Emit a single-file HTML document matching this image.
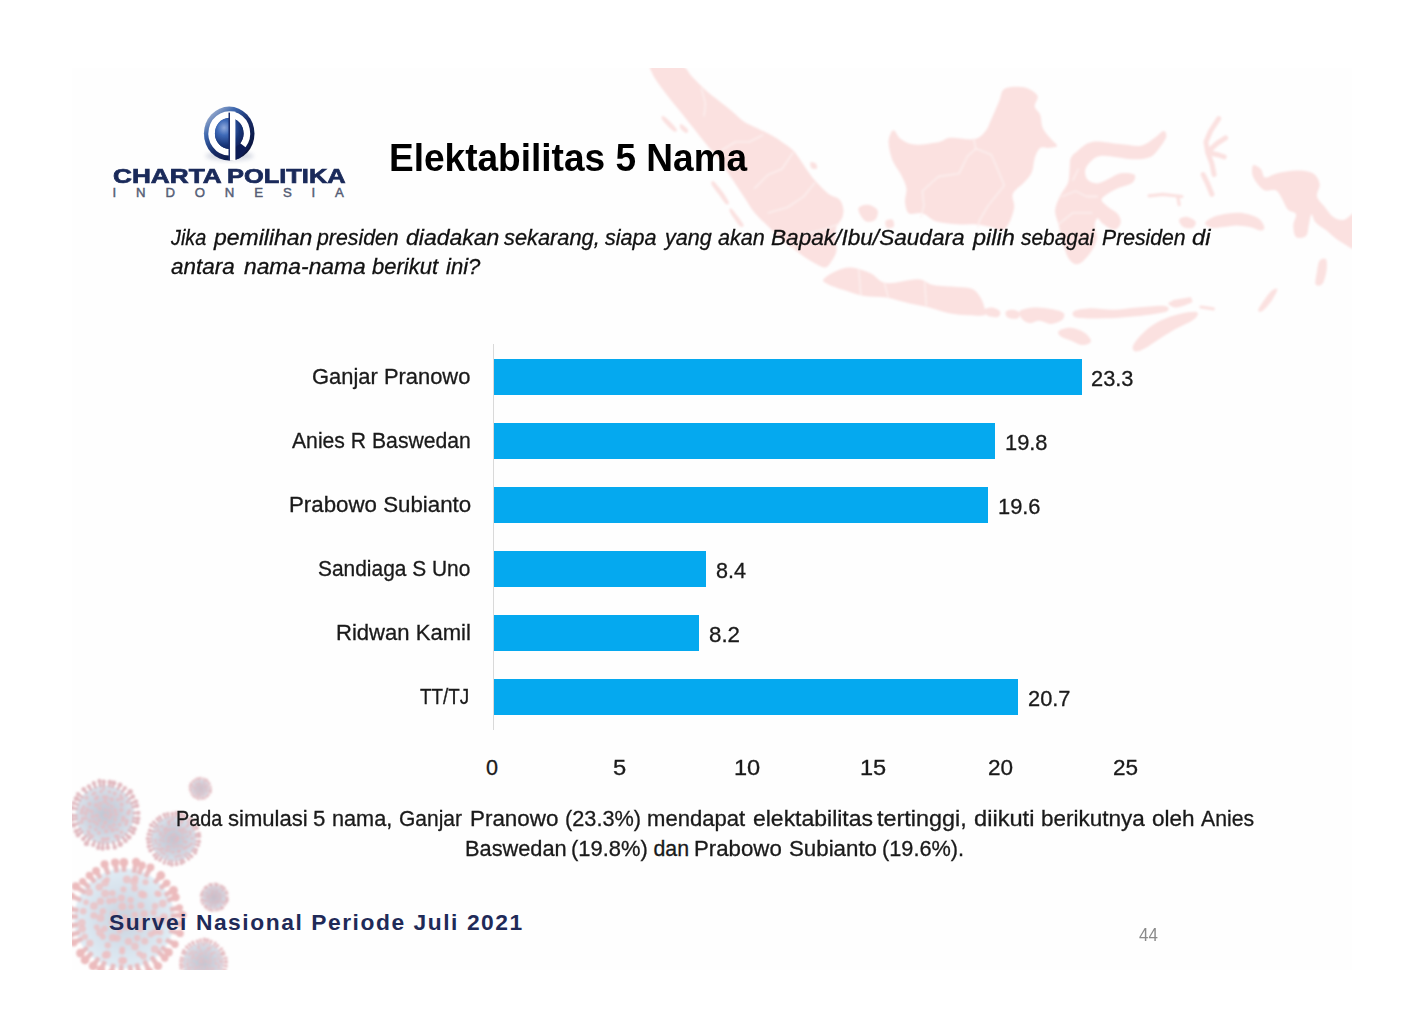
<!DOCTYPE html>
<html lang="id">
<head>
<meta charset="utf-8">
<title>Elektabilitas 5 Nama</title>
<style>
html,body{margin:0;padding:0;background:#fff;}
body{width:1428px;height:1026px;position:relative;overflow:hidden;font-family:"Liberation Sans",sans-serif;}
#slide{position:absolute;left:72px;top:68px;width:1280px;height:902px;background:#fefefe;overflow:hidden;}
.abs{position:absolute;left:0;top:0;}
.t{position:absolute;white-space:nowrap;line-height:1;transform-origin:0 0;margin:0;padding:0;}
.bar{position:absolute;left:493.6px;height:35.6px;background:#05a9ef;}
#axis{position:absolute;left:493px;top:344px;width:1px;height:386px;background:#d9d9d9;}
</style>
</head>
<body>
<div id="slide"></div>
<!-- decorative art (page coordinates) -->
<svg class="abs" width="1428" height="1026" viewBox="0 0 1428 1026">
<defs><clipPath id="slideClip"><rect x="72" y="68" width="1280" height="902"/></clipPath>
<filter id="mapBlur" x="-5%" y="-5%" width="110%" height="110%"><feGaussianBlur stdDeviation="0.9"/></filter></defs>
<g clip-path="url(#slideClip)"><g filter="url(#mapBlur)" fill="#fbe1e0"><path d="M652.3 65.5 C657.1 64.1 674.3 63.6 680.9 65.5 C687.5 67.3 687.8 72.3 691.9 76.4 C695.9 80.5 701.0 85.9 705.5 90.0 C710.1 94.1 714.6 97.3 719.1 100.9 C723.7 104.6 728.7 108.4 732.8 111.9 C736.9 115.3 739.6 118.7 743.7 121.4 C747.8 124.1 752.8 126.0 757.4 128.2 C761.9 130.5 766.9 132.8 771.0 135.1 C775.1 137.3 778.3 139.4 781.9 141.9 C785.6 144.4 789.7 146.9 792.8 150.1 C796.0 153.2 798.8 157.8 801.0 161.0 C803.3 164.2 804.2 166.0 806.5 169.2 C808.8 172.4 811.0 176.0 814.7 180.1 C818.3 184.2 824.2 190.5 828.3 193.7 C832.4 196.9 836.7 196.7 839.2 199.2 C841.7 201.7 842.9 205.6 843.3 208.7 C843.8 211.9 843.1 215.3 842.0 218.3 C840.8 221.3 837.6 223.3 836.5 226.5 C835.4 229.7 835.1 233.3 835.1 237.4 C835.1 241.5 837.2 247.0 836.5 251.0 C835.8 255.1 832.9 259.2 831.0 262.0 C829.2 264.7 827.9 267.0 825.6 267.4 C823.3 267.9 821.0 266.5 817.4 264.7 C813.8 262.9 807.8 259.2 803.8 256.5 C799.7 253.8 796.5 251.0 792.8 248.3 C789.2 245.6 786.0 243.8 781.9 240.1 C777.8 236.5 772.8 231.0 768.3 226.5 C763.7 221.9 758.7 217.8 754.6 212.8 C750.5 207.8 747.4 201.9 743.7 196.5 C740.1 191.0 736.4 185.5 732.8 180.1 C729.2 174.6 725.5 168.7 721.9 163.7 C718.2 158.7 714.6 154.6 711.0 150.1 C707.3 145.5 703.7 141.0 700.0 136.4 C696.4 131.9 692.8 127.3 689.1 122.8 C685.5 118.2 681.8 113.7 678.2 109.1 C674.6 104.6 670.5 99.6 667.3 95.5 C664.1 91.4 661.6 88.2 659.1 84.6 C656.6 80.9 653.4 76.8 652.3 73.6 C651.1 70.5 647.5 66.8 652.3 65.5 Z"/><path d="M894.1 130.4 C895.9 131.1 897.5 136.8 900.9 139.1 C904.4 141.5 908.2 144.2 914.6 144.6 C921.0 145.1 933.2 143.0 939.1 141.9 C945.1 140.7 944.2 138.2 950.1 137.8 C956.0 137.3 968.7 140.3 974.6 139.1 C980.5 138.0 982.8 134.1 985.5 131.0 C988.3 127.8 988.7 125.0 991.0 120.0 C993.3 115.0 996.9 106.2 999.2 100.9 C1001.5 95.7 1000.6 90.9 1004.7 88.7 C1008.7 86.4 1018.3 86.2 1023.8 87.3 C1029.2 88.4 1035.6 92.3 1037.4 95.5 C1039.2 98.7 1034.2 103.2 1034.7 106.4 C1035.1 109.6 1038.8 110.9 1040.1 114.6 C1041.5 118.2 1041.0 124.1 1042.9 128.2 C1044.7 132.3 1048.7 136.2 1051.0 139.1 C1053.4 142.1 1057.5 144.5 1057.1 146.0 C1056.6 147.4 1051.1 147.6 1048.3 147.9 C1045.5 148.2 1042.4 146.2 1040.1 147.9 C1037.9 149.6 1036.0 154.3 1034.7 158.3 C1033.3 162.3 1033.8 167.8 1031.9 171.9 C1030.1 176.0 1026.9 179.2 1023.8 182.8 C1020.6 186.5 1014.4 189.6 1012.8 193.7 C1011.2 197.8 1014.9 202.4 1014.2 207.4 C1013.5 212.4 1010.8 219.9 1008.7 223.8 C1006.7 227.6 1004.9 230.0 1001.9 230.6 C999.0 231.1 995.6 228.1 991.0 227.0 C986.5 226.0 980.5 224.8 974.6 224.3 C968.7 223.8 961.9 224.8 955.5 224.3 C949.2 223.8 941.9 223.4 936.4 221.6 C931.0 219.8 927.3 214.7 922.8 213.4 C918.2 212.0 912.1 215.3 909.1 213.4 C906.2 211.5 905.5 206.1 905.0 201.9 C904.6 197.7 907.1 192.8 906.4 188.3 C905.7 183.7 903.2 179.2 900.9 174.6 C898.7 170.1 894.8 166.0 892.8 161.0 C890.7 156.0 889.1 148.9 888.7 144.6 C888.2 140.3 889.1 137.4 890.0 135.1 C890.9 132.7 892.3 129.7 894.1 130.4 Z"/><path d="M1077.0 151.4 C1080.5 148.7 1084.9 143.1 1092.0 141.9 C1099.0 140.6 1111.1 143.4 1119.3 144.1 C1127.5 144.7 1135.2 146.7 1141.1 145.7 C1147.0 144.7 1151.0 140.2 1154.8 137.8 C1158.5 135.3 1161.6 131.1 1163.5 131.0 C1165.4 130.8 1167.0 134.0 1166.2 137.0 C1165.4 139.9 1161.6 145.3 1158.9 148.7 C1156.1 152.1 1154.2 155.4 1149.8 157.2 C1145.5 158.9 1138.5 159.3 1132.9 159.3 C1127.4 159.3 1122.0 157.7 1116.6 157.2 C1111.1 156.6 1104.5 155.3 1100.2 156.1 C1095.9 156.8 1093.1 159.1 1090.6 161.5 C1088.1 163.9 1085.6 167.4 1085.2 170.5 C1084.7 173.6 1085.8 177.9 1087.9 180.1 C1089.9 182.2 1094.0 183.5 1097.4 183.4 C1100.9 183.2 1104.5 180.7 1108.4 179.0 C1112.2 177.3 1116.3 174.0 1120.6 173.3 C1125.0 172.5 1132.3 173.0 1134.3 174.6 C1136.2 176.2 1135.1 180.5 1132.4 182.8 C1129.7 185.1 1122.1 186.4 1117.9 188.3 C1113.7 190.2 1109.7 192.4 1107.0 194.3 C1104.3 196.2 1101.5 197.8 1101.5 199.7 C1101.5 201.7 1104.3 203.6 1107.0 206.0 C1109.7 208.4 1115.6 211.3 1117.9 214.2 C1120.2 217.1 1121.3 220.6 1120.6 223.2 C1120.0 225.8 1116.8 229.7 1113.8 229.8 C1110.9 229.9 1105.6 225.7 1102.9 223.8 C1100.2 221.8 1098.8 217.8 1097.4 218.3 C1096.1 218.8 1094.8 223.1 1094.7 226.5 C1094.6 229.9 1097.6 234.4 1096.9 238.8 C1096.2 243.1 1093.7 248.2 1090.6 252.4 C1087.5 256.6 1082.0 263.1 1078.3 264.1 C1074.7 265.2 1071.4 262.5 1068.8 258.7 C1066.1 254.9 1064.2 247.1 1062.5 241.5 C1060.8 235.9 1059.9 230.4 1058.7 225.1 C1057.5 219.9 1054.8 215.1 1055.1 210.1 C1055.5 205.1 1058.5 199.6 1060.6 195.1 C1062.7 190.5 1066.5 187.1 1068.0 182.8 C1069.5 178.5 1069.2 173.3 1069.6 169.2 C1070.1 165.1 1069.5 161.2 1070.7 158.3 C1071.9 155.3 1073.4 154.2 1077.0 151.4 Z"/><path d="M823.5 279.2 C824.8 277.1 830.7 273.3 835.3 271.4 C839.9 269.4 845.1 267.1 851.0 267.5 C856.9 267.8 864.7 270.7 870.6 273.3 C876.5 275.9 878.4 282.2 886.3 283.1 C894.1 284.1 909.8 278.9 917.6 279.2 C925.5 279.5 926.8 283.8 933.3 285.1 C939.9 286.4 950.3 286.4 956.9 287.1 C963.4 287.7 968.5 287.1 972.5 289.0 C976.6 291.0 979.1 295.2 981.2 298.8 C983.3 302.4 984.6 307.8 985.1 310.6 C985.6 313.3 987.1 314.5 984.3 315.3 C981.6 316.1 974.5 315.6 968.6 315.3 C962.7 315.0 955.6 314.6 949.0 313.3 C942.5 312.0 935.9 309.1 929.4 307.5 C922.9 305.8 917.0 305.2 909.8 303.5 C902.6 301.9 894.1 299.0 886.3 297.6 C878.4 296.3 869.9 297.0 862.7 295.7 C855.6 294.4 849.0 291.8 843.1 289.8 C837.3 287.8 830.7 285.7 827.5 283.9 C824.2 282.2 822.2 281.3 823.5 279.2 Z"/><path d="M984.3 309.8 C985.0 308.4 989.5 307.2 992.2 307.5 C994.8 307.7 999.0 309.8 1000.0 311.4 C1001.0 312.9 1000.0 316.1 998.0 316.9 C996.1 317.6 990.5 317.3 988.2 316.1 C985.9 314.9 983.7 311.2 984.3 309.8 Z"/><path d="M1005.9 311.4 C1006.9 310.1 1011.4 309.5 1013.7 309.8 C1016.0 310.1 1019.0 311.5 1019.6 312.9 C1020.3 314.4 1019.6 317.6 1017.6 318.4 C1015.7 319.2 1009.8 318.8 1007.8 317.6 C1005.9 316.5 1004.9 312.7 1005.9 311.4 Z"/><path d="M1020.4 310.6 C1022.7 308.8 1030.2 307.7 1035.3 307.5 C1040.4 307.2 1046.3 308.1 1051.0 309.0 C1055.7 309.9 1061.7 311.1 1063.5 312.9 C1065.4 314.8 1064.1 318.2 1062.0 320.0 C1059.9 321.8 1054.8 323.8 1051.0 323.9 C1047.2 324.1 1042.8 320.9 1039.2 320.8 C1035.6 320.7 1032.4 323.5 1029.4 323.1 C1026.5 322.7 1023.1 320.5 1021.6 318.4 C1020.1 316.3 1018.1 312.4 1020.4 310.6 Z"/><path d="M1073.7 311.4 C1076.0 309.8 1083.5 308.5 1090.2 308.2 C1096.9 308.0 1105.9 309.9 1113.7 309.8 C1121.6 309.7 1128.8 308.1 1137.3 307.5 C1145.8 306.8 1159.8 305.2 1164.7 305.9 C1169.6 306.5 1169.9 309.8 1166.7 311.4 C1163.4 312.9 1152.6 314.2 1145.1 315.3 C1137.6 316.3 1129.4 317.1 1121.6 317.6 C1113.7 318.2 1105.6 318.4 1098.0 318.4 C1090.5 318.4 1080.5 318.8 1076.5 317.6 C1072.4 316.5 1071.4 312.9 1073.7 311.4 Z"/><path d="M1058.8 331.0 C1060.5 329.5 1066.3 327.6 1070.6 327.8 C1074.8 328.1 1080.9 330.3 1084.3 332.5 C1087.7 334.8 1091.3 339.1 1091.0 341.2 C1090.7 343.3 1085.8 345.2 1082.4 345.1 C1079.0 345.0 1074.2 341.8 1070.6 340.4 C1067.0 339.0 1062.7 338.0 1060.8 336.5 C1058.8 334.9 1057.2 332.4 1058.8 331.0 Z"/><path d="M1133.3 345.1 C1135.0 341.7 1140.5 335.1 1145.1 331.0 C1149.7 326.9 1154.9 323.3 1160.8 320.4 C1166.7 317.5 1174.4 315.1 1180.4 313.7 C1186.4 312.4 1194.6 311.2 1196.9 312.2 C1199.2 313.1 1197.5 316.5 1194.1 319.2 C1190.7 322.0 1182.0 325.5 1176.5 328.6 C1170.9 331.8 1166.0 334.8 1160.8 338.0 C1155.6 341.3 1149.3 346.0 1145.1 348.2 C1140.8 350.5 1137.3 351.9 1135.3 351.4 C1133.3 350.8 1131.7 348.5 1133.3 345.1 Z"/><path d="M1168.6 302.7 C1170.3 301.3 1182.4 299.0 1186.3 298.8 C1190.2 298.7 1193.8 300.5 1192.2 302.0 C1190.5 303.4 1180.4 307.3 1176.5 307.5 C1172.5 307.6 1167.0 304.2 1168.6 302.7 Z"/><path d="M1253.4 165.1 C1254.9 164.2 1259.1 167.1 1261.0 169.2 C1263.0 171.2 1262.4 176.7 1265.1 177.4 C1267.9 178.0 1272.2 174.4 1277.4 173.3 C1282.7 172.1 1290.6 170.5 1296.5 170.5 C1302.4 170.5 1309.0 171.0 1312.9 173.3 C1316.8 175.5 1319.0 180.3 1319.7 184.2 C1320.4 188.0 1316.1 192.6 1317.0 196.5 C1317.9 200.3 1322.5 204.0 1325.2 207.4 C1327.9 210.8 1330.2 214.9 1333.4 216.9 C1336.6 219.0 1340.0 220.6 1344.3 219.7 C1348.6 218.8 1356.8 206.7 1359.3 211.5 C1361.8 216.2 1362.5 243.3 1359.3 248.3 C1356.1 253.3 1345.7 244.5 1340.2 241.5 C1334.7 238.5 1330.6 233.8 1326.6 230.6 C1322.5 227.4 1318.1 225.1 1315.6 222.4 C1313.1 219.7 1312.7 213.7 1311.5 214.2 C1310.4 214.7 1309.7 221.5 1308.8 225.1 C1307.9 228.8 1308.2 234.1 1306.1 236.0 C1303.9 238.0 1298.1 238.7 1296.0 236.9 C1293.8 235.0 1293.3 228.9 1293.3 225.1 C1293.3 221.3 1296.9 216.8 1296.0 214.2 C1295.1 211.6 1290.2 212.3 1287.8 209.6 C1285.4 206.8 1283.5 201.0 1281.5 197.8 C1279.6 194.6 1278.8 191.7 1276.1 190.5 C1273.3 189.2 1268.2 191.5 1265.1 190.5 C1262.1 189.4 1259.9 186.8 1257.8 184.2 C1255.6 181.5 1253.0 177.8 1252.3 174.6 C1251.6 171.4 1252.0 166.0 1253.4 165.1 Z"/><path d="M1205.1 223.2 C1205.3 221.4 1209.4 218.6 1213.3 216.9 C1217.2 215.3 1223.1 214.0 1228.3 213.4 C1233.5 212.8 1239.7 212.6 1244.7 213.4 C1249.7 214.2 1255.0 216.0 1258.3 218.3 C1261.6 220.6 1263.9 225.0 1264.3 227.0 C1264.8 229.1 1263.4 230.6 1261.0 230.6 C1258.7 230.6 1254.2 227.9 1250.1 227.0 C1246.0 226.2 1241.0 225.4 1236.5 225.4 C1231.9 225.4 1226.9 226.6 1222.8 227.0 C1218.7 227.4 1214.9 228.5 1211.9 227.8 C1209.0 227.2 1204.9 225.0 1205.1 223.2 Z"/><path d="M1179.2 219.7 C1179.9 218.0 1184.6 216.6 1187.4 216.9 C1190.1 217.3 1194.6 219.8 1195.5 221.6 C1196.5 223.4 1194.9 226.9 1192.8 227.8 C1190.8 228.8 1185.5 228.4 1183.3 227.0 C1181.0 225.7 1178.5 221.3 1179.2 219.7 Z"/><path d="M1319.7 260.6 C1321.2 258.6 1324.9 257.6 1326.0 259.2 C1327.1 260.8 1327.1 266.1 1326.6 270.2 C1326.0 274.2 1324.3 281.4 1322.5 283.8 C1320.6 286.2 1316.5 286.4 1315.6 284.3 C1314.7 282.3 1316.3 275.5 1317.0 271.5 C1317.7 267.6 1318.2 262.6 1319.7 260.6 Z"/><path d="M1272.0 290.6 C1274.0 289.0 1277.4 287.7 1277.4 289.3 C1277.4 290.8 1274.5 296.5 1272.0 300.2 C1269.5 303.8 1264.7 309.5 1262.4 311.1 C1260.1 312.7 1257.9 311.8 1258.3 309.7 C1258.8 307.7 1262.9 302.0 1265.1 298.8 C1267.4 295.6 1269.9 292.2 1272.0 290.6 Z"/><path d="M858.3 208.7 C858.8 206.0 864.7 204.4 867.9 204.7 C871.1 204.9 876.2 207.6 877.4 210.1 C878.7 212.6 877.3 217.8 875.3 219.7 C873.2 221.5 868.0 222.8 865.2 221.0 C862.3 219.2 857.9 211.5 858.3 208.7 Z"/><path d="M885.6 221.0 C886.5 219.7 891.1 218.8 892.5 219.7 C893.8 220.6 894.7 225.1 893.8 226.5 C892.9 227.8 888.4 228.8 887.0 227.8 C885.6 226.9 884.7 222.4 885.6 221.0 Z"/><path d="M663.2 115.9 C664.6 116.4 667.7 119.1 670.0 121.4 C672.3 123.7 676.2 127.9 676.8 129.6 C677.5 131.3 675.7 132.2 674.1 131.5 C672.5 130.8 669.3 127.6 667.3 125.5 C665.2 123.4 662.5 120.3 661.8 118.7 C661.2 117.1 661.8 115.5 663.2 115.9 Z"/><path d="M680.9 124.1 C682.2 124.4 686.9 128.1 687.8 129.6 C688.7 131.1 687.6 133.4 686.4 133.1 C685.2 132.9 681.3 129.7 680.4 128.2 C679.5 126.7 679.7 123.9 680.9 124.1 Z"/><path d="M713.7 181.5 C715.4 182.6 719.4 187.6 721.9 191.0 C724.4 194.4 728.0 199.7 728.7 201.9 C729.4 204.1 727.7 205.4 726.0 204.1 C724.3 202.8 721.0 197.6 718.6 194.3 C716.2 191.0 712.3 186.3 711.5 184.2 C710.7 182.0 712.0 180.3 713.7 181.5 Z"/><path d="M731.4 208.7 C732.9 209.8 736.2 214.2 738.3 216.9 C740.3 219.7 743.3 223.5 743.7 225.1 C744.1 226.7 742.0 227.5 740.4 226.5 C738.8 225.4 736.0 221.5 734.2 218.8 C732.3 216.2 730.0 212.3 729.5 210.7 C729.1 209.0 730.0 207.7 731.4 208.7 Z"/><path d="M810.6 162.3 C811.4 161.6 815.0 162.7 816.0 163.7 C817.1 164.8 817.6 167.9 816.9 168.6 C816.1 169.4 812.4 169.1 811.4 168.1 C810.4 167.0 809.8 163.1 810.6 162.3 Z"/><path d="M1218.7 118.7 L1210.6 131.0 L1205.9 141.9 L1207.8 152.8 L1211.9 163.7 L1214.1 174.6" fill="none" stroke="#fbe1e0" stroke-width="5" stroke-linecap="round" stroke-linejoin="round"/><path d="M1225.6 137.8 L1217.4 143.2 L1209.7 150.1" fill="none" stroke="#fbe1e0" stroke-width="5" stroke-linecap="round" stroke-linejoin="round"/><path d="M1209.2 152.8 L1218.7 155.0 L1224.2 156.9" fill="none" stroke="#fbe1e0" stroke-width="5" stroke-linecap="round" stroke-linejoin="round"/><path d="M1203.2 174.6 L1207.8 184.2 L1211.9 194.3" fill="none" stroke="#fbe1e0" stroke-width="5" stroke-linecap="round" stroke-linejoin="round"/><path d="M1149.1 195.9 L1162.8 194.3 L1181.9 196.5" fill="none" stroke="#fbe1e0" stroke-width="3.2" stroke-linecap="round" stroke-linejoin="round"/><path d="M1177.8 196.5 L1179.2 204.7" fill="none" stroke="#fbe1e0" stroke-width="3.2" stroke-linecap="round" stroke-linejoin="round"/><path d="M1173.7 301.5 L1190.1 298.8" fill="none" stroke="#fbe1e0" stroke-width="3.2" stroke-linecap="round" stroke-linejoin="round"/><path d="M1201.0 307.0 L1213.3 308.9" fill="none" stroke="#fbe1e0" stroke-width="3.2" stroke-linecap="round" stroke-linejoin="round"/><path d="M975.8 148.7 L967.7 156.0 L958.9 173.6 L938.5 176.5 L922.4 191.1 L923.9 205.7 L920.9 217.4" fill="none" stroke="#fdf1f0" stroke-width="1.3" stroke-linecap="round" stroke-linejoin="round"/><path d="M975.8 148.7 L991.1 154.6 L997.0 167.7 L1004.3 185.3 L988.2 205.7 L979.4 220.4 L978.0 227.7" fill="none" stroke="#fdf1f0" stroke-width="1.3" stroke-linecap="round" stroke-linejoin="round"/><path d="M973.6 138.5 L975.8 148.7" fill="none" stroke="#fdf1f0" stroke-width="1.3" stroke-linecap="round" stroke-linejoin="round"/><path d="M701.4 88.7 L705.5 103.7 L704.1 115.9" fill="none" stroke="#fdf1f0" stroke-width="1.3" stroke-linecap="round" stroke-linejoin="round"/><path d="M721.9 150.1 L735.5 141.9 L749.2 141.9 L762.8 135.1" fill="none" stroke="#fdf1f0" stroke-width="1.3" stroke-linecap="round" stroke-linejoin="round"/><path d="M754.6 188.3 L768.3 174.6 L781.9 169.2 L792.8 152.8" fill="none" stroke="#fdf1f0" stroke-width="1.3" stroke-linecap="round" stroke-linejoin="round"/><path d="M768.3 212.8 L787.4 207.4 L803.8 196.5 L814.7 182.8" fill="none" stroke="#fdf1f0" stroke-width="1.3" stroke-linecap="round" stroke-linejoin="round"/><path d="M792.8 248.3 L803.8 234.7 L825.6 229.2 L839.2 223.8" fill="none" stroke="#fdf1f0" stroke-width="1.3" stroke-linecap="round" stroke-linejoin="round"/><path d="M1062.0 196.5 L1075.6 191.0 L1086.5 196.5 L1097.4 196.5" fill="none" stroke="#fdf1f0" stroke-width="1.3" stroke-linecap="round" stroke-linejoin="round"/><path d="M1059.2 223.8 L1072.9 212.8 L1092.0 212.8" fill="none" stroke="#fdf1f0" stroke-width="1.3" stroke-linecap="round" stroke-linejoin="round"/><path d="M1078.3 169.2 L1072.9 180.1" fill="none" stroke="#fdf1f0" stroke-width="1.3" stroke-linecap="round" stroke-linejoin="round"/><path d="M858.8 269.4 L860.8 294.9" fill="none" stroke="#fdf1f0" stroke-width="1.3" stroke-linecap="round" stroke-linejoin="round"/><path d="M884.3 282.4 L888.2 297.3" fill="none" stroke="#fdf1f0" stroke-width="1.3" stroke-linecap="round" stroke-linejoin="round"/><path d="M924.7 282.4 L926.3 305.9" fill="none" stroke="#fdf1f0" stroke-width="1.3" stroke-linecap="round" stroke-linejoin="round"/></g></g>
</svg>
<svg class="abs" width="1428" height="1026" viewBox="0 0 1428 1026">
<defs>
<radialGradient id="vBody" cx="0.5" cy="0.5" r="0.5"><stop offset="0" stop-color="#aebccd"/><stop offset="0.5" stop-color="#bfd0e0"/><stop offset="1" stop-color="#d2e4f0"/></radialGradient>
<radialGradient id="vBody2" cx="0.5" cy="0.5" r="0.5"><stop offset="0" stop-color="#98a3b8"/><stop offset="0.55" stop-color="#abb8cb"/><stop offset="1" stop-color="#c2d1e0"/></radialGradient>
<filter id="vBlur" x="-10%" y="-10%" width="120%" height="120%"><feGaussianBlur stdDeviation="1.1"/></filter>
</defs>
<g clip-path="url(#slideClip)"><g filter="url(#vBlur)"><g opacity="0.66"><circle cx="124.3" cy="918.6" r="50.0" fill="url(#vBody)"/><path d="M79.8 932.2 L68.7 935.5" stroke="#dd9da2" stroke-width="4.8"/><circle cx="68.7" cy="935.5" r="3.9" fill="#e2989b"/><path d="M78.2 924.6 L67.7 926.0" stroke="#dd9da2" stroke-width="4.8"/><circle cx="67.7" cy="926.0" r="3.7" fill="#e2989b"/><path d="M77.9 916.7 L67.1 916.3" stroke="#dd9da2" stroke-width="4.8"/><circle cx="67.1" cy="916.3" r="4.2" fill="#e2989b"/><path d="M78.5 910.4 L68.9 908.7" stroke="#dd9da2" stroke-width="4.8"/><circle cx="68.9" cy="908.7" r="3.6" fill="#e2989b"/><path d="M81.5 900.4 L71.5 896.1" stroke="#dd9da2" stroke-width="4.8"/><circle cx="71.5" cy="896.1" r="3.5" fill="#e2989b"/><path d="M85.6 892.9 L75.8 886.4" stroke="#dd9da2" stroke-width="4.8"/><circle cx="75.8" cy="886.4" r="4.1" fill="#e2989b"/><path d="M89.6 887.7 L82.6 881.5" stroke="#dd9da2" stroke-width="4.8"/><circle cx="82.6" cy="881.5" r="3.5" fill="#e2989b"/><path d="M95.1 882.5 L89.4 875.5" stroke="#dd9da2" stroke-width="4.8"/><circle cx="89.4" cy="875.5" r="3.7" fill="#e2989b"/><path d="M100.7 878.6 L96.1 870.9" stroke="#dd9da2" stroke-width="4.8"/><circle cx="96.1" cy="870.9" r="3.9" fill="#e2989b"/><path d="M108.5 874.9 L104.6 864.2" stroke="#dd9da2" stroke-width="4.8"/><circle cx="104.6" cy="864.2" r="4.0" fill="#e2989b"/><path d="M116.8 872.7 L115.1 862.5" stroke="#dd9da2" stroke-width="4.8"/><circle cx="115.1" cy="862.5" r="4.1" fill="#e2989b"/><path d="M124.0 872.1 L123.9 862.4" stroke="#dd9da2" stroke-width="4.8"/><circle cx="123.9" cy="862.4" r="4.4" fill="#e2989b"/><path d="M133.8 873.1 L136.1 862.0" stroke="#dd9da2" stroke-width="4.8"/><circle cx="136.1" cy="862.0" r="4.2" fill="#e2989b"/><path d="M139.0 874.5 L142.0 865.4" stroke="#dd9da2" stroke-width="4.8"/><circle cx="142.0" cy="865.4" r="3.8" fill="#e2989b"/><path d="M145.4 877.2 L150.5 867.3" stroke="#dd9da2" stroke-width="4.8"/><circle cx="150.5" cy="867.3" r="3.9" fill="#e2989b"/><path d="M154.4 883.2 L160.8 875.5" stroke="#dd9da2" stroke-width="4.8"/><circle cx="160.8" cy="875.5" r="4.4" fill="#e2989b"/><path d="M159.9 888.7 L166.7 883.1" stroke="#dd9da2" stroke-width="4.8"/><circle cx="166.7" cy="883.1" r="3.7" fill="#e2989b"/><path d="M164.6 895.4 L173.5 890.3" stroke="#dd9da2" stroke-width="4.8"/><circle cx="173.5" cy="890.3" r="4.4" fill="#e2989b"/><path d="M167.2 900.8 L175.6 897.3" stroke="#dd9da2" stroke-width="4.8"/><circle cx="175.6" cy="897.3" r="4.1" fill="#e2989b"/><path d="M169.9 909.7 L179.4 907.8" stroke="#dd9da2" stroke-width="4.8"/><circle cx="179.4" cy="907.8" r="3.6" fill="#e2989b"/><path d="M170.7 915.8 L182.4 915.1" stroke="#dd9da2" stroke-width="4.8"/><circle cx="182.4" cy="915.1" r="4.2" fill="#e2989b"/><path d="M170.6 922.9 L180.1 923.8" stroke="#dd9da2" stroke-width="4.8"/><circle cx="180.1" cy="923.8" r="3.6" fill="#e2989b"/><path d="M169.2 930.5 L180.1 933.4" stroke="#dd9da2" stroke-width="4.8"/><circle cx="180.1" cy="933.4" r="3.7" fill="#e2989b"/><path d="M165.8 939.6 L174.9 944.2" stroke="#dd9da2" stroke-width="4.8"/><circle cx="174.9" cy="944.2" r="3.7" fill="#e2989b"/><path d="M161.2 946.8 L168.6 952.4" stroke="#dd9da2" stroke-width="4.8"/><circle cx="168.6" cy="952.4" r="4.1" fill="#e2989b"/><path d="M157.6 951.0 L164.8 958.1" stroke="#dd9da2" stroke-width="4.8"/><circle cx="164.8" cy="958.1" r="3.7" fill="#e2989b"/><path d="M151.2 956.5 L158.0 966.1" stroke="#dd9da2" stroke-width="4.8"/><circle cx="158.0" cy="966.1" r="4.2" fill="#e2989b"/><path d="M144.3 960.6 L149.2 971.0" stroke="#dd9da2" stroke-width="4.8"/><circle cx="149.2" cy="971.0" r="3.7" fill="#e2989b"/><path d="M136.5 963.4 L139.6 974.4" stroke="#dd9da2" stroke-width="4.8"/><circle cx="139.6" cy="974.4" r="4.1" fill="#e2989b"/><path d="M129.9 964.7 L131.3 976.5" stroke="#dd9da2" stroke-width="4.8"/><circle cx="131.3" cy="976.5" r="3.7" fill="#e2989b"/><path d="M121.4 965.0 L120.7 976.1" stroke="#dd9da2" stroke-width="4.8"/><circle cx="120.7" cy="976.1" r="3.8" fill="#e2989b"/><path d="M113.5 963.8 L111.4 972.6" stroke="#dd9da2" stroke-width="4.8"/><circle cx="111.4" cy="972.6" r="3.6" fill="#e2989b"/><path d="M105.0 960.9 L101.0 969.6" stroke="#dd9da2" stroke-width="4.8"/><circle cx="101.0" cy="969.6" r="4.1" fill="#e2989b"/><path d="M98.8 957.5 L93.2 966.0" stroke="#dd9da2" stroke-width="4.8"/><circle cx="93.2" cy="966.0" r="4.4" fill="#e2989b"/><path d="M92.3 952.3 L85.0 960.0" stroke="#dd9da2" stroke-width="4.8"/><circle cx="85.0" cy="960.0" r="4.3" fill="#e2989b"/><path d="M87.7 947.3 L80.4 953.1" stroke="#dd9da2" stroke-width="4.8"/><circle cx="80.4" cy="953.1" r="4.3" fill="#e2989b"/><path d="M82.3 938.6 L73.7 942.7" stroke="#dd9da2" stroke-width="4.8"/><circle cx="73.7" cy="942.7" r="3.7" fill="#e2989b"/><circle cx="126.8" cy="879.5" r="4.0" fill="#e3a0a4" opacity="0.8"/><circle cx="135.4" cy="878.5" r="3.4" fill="#e3a0a4" opacity="0.8"/><circle cx="134.2" cy="881.7" r="4.0" fill="#e3a0a4" opacity="0.8"/><circle cx="145.5" cy="882.1" r="3.2" fill="#e3a0a4" opacity="0.8"/><circle cx="157.5" cy="893.6" r="3.3" fill="#e3a0a4" opacity="0.8"/><circle cx="158.8" cy="894.2" r="3.0" fill="#e3a0a4" opacity="0.8"/><circle cx="162.8" cy="903.5" r="3.9" fill="#e3a0a4" opacity="0.8"/><circle cx="164.0" cy="917.2" r="4.0" fill="#e3a0a4" opacity="0.8"/><circle cx="162.3" cy="921.1" r="3.2" fill="#e3a0a4" opacity="0.8"/><circle cx="160.2" cy="932.2" r="3.1" fill="#e3a0a4" opacity="0.8"/><circle cx="159.3" cy="940.8" r="3.1" fill="#e3a0a4" opacity="0.8"/><circle cx="154.9" cy="949.3" r="4.0" fill="#e3a0a4" opacity="0.8"/><circle cx="143.4" cy="956.1" r="3.6" fill="#e3a0a4" opacity="0.8"/><circle cx="139.2" cy="953.8" r="3.0" fill="#e3a0a4" opacity="0.8"/><circle cx="122.0" cy="960.7" r="4.0" fill="#e3a0a4" opacity="0.8"/><circle cx="123.8" cy="960.4" r="3.5" fill="#e3a0a4" opacity="0.8"/><circle cx="107.0" cy="954.5" r="4.1" fill="#e3a0a4" opacity="0.8"/><circle cx="105.4" cy="955.3" r="3.8" fill="#e3a0a4" opacity="0.8"/><circle cx="89.8" cy="943.3" r="3.7" fill="#e3a0a4" opacity="0.8"/><circle cx="84.8" cy="936.7" r="3.3" fill="#e3a0a4" opacity="0.8"/><circle cx="82.2" cy="928.8" r="3.9" fill="#e3a0a4" opacity="0.8"/><circle cx="81.8" cy="922.6" r="3.9" fill="#e3a0a4" opacity="0.8"/><circle cx="83.2" cy="911.2" r="3.4" fill="#e3a0a4" opacity="0.8"/><circle cx="86.0" cy="902.2" r="3.0" fill="#e3a0a4" opacity="0.8"/><circle cx="89.2" cy="892.2" r="3.9" fill="#e3a0a4" opacity="0.8"/><circle cx="99.2" cy="887.1" r="3.8" fill="#e3a0a4" opacity="0.8"/><circle cx="105.1" cy="882.8" r="3.9" fill="#e3a0a4" opacity="0.8"/><circle cx="107.1" cy="879.8" r="3.0" fill="#e3a0a4" opacity="0.8"/><circle cx="100.5" cy="901.3" r="3.7" fill="#e3a0a4" opacity="0.8"/><circle cx="105.1" cy="893.4" r="4.0" fill="#e3a0a4" opacity="0.8"/><circle cx="112.4" cy="893.2" r="3.3" fill="#e3a0a4" opacity="0.8"/><circle cx="123.5" cy="889.4" r="3.1" fill="#e3a0a4" opacity="0.8"/><circle cx="134.6" cy="888.4" r="3.4" fill="#e3a0a4" opacity="0.8"/><circle cx="141.4" cy="894.0" r="3.7" fill="#e3a0a4" opacity="0.8"/><circle cx="143.7" cy="895.0" r="3.8" fill="#e3a0a4" opacity="0.8"/><circle cx="155.1" cy="906.2" r="3.4" fill="#e3a0a4" opacity="0.8"/><circle cx="153.6" cy="912.7" r="3.1" fill="#e3a0a4" opacity="0.8"/><circle cx="157.2" cy="920.7" r="3.9" fill="#e3a0a4" opacity="0.8"/><circle cx="155.1" cy="932.1" r="3.3" fill="#e3a0a4" opacity="0.8"/><circle cx="150.7" cy="934.3" r="3.3" fill="#e3a0a4" opacity="0.8"/><circle cx="144.8" cy="941.2" r="3.6" fill="#e3a0a4" opacity="0.8"/><circle cx="135.0" cy="946.5" r="3.9" fill="#e3a0a4" opacity="0.8"/><circle cx="122.3" cy="949.2" r="3.0" fill="#e3a0a4" opacity="0.8"/><circle cx="122.1" cy="951.7" r="3.0" fill="#e3a0a4" opacity="0.8"/><circle cx="107.8" cy="945.3" r="3.3" fill="#e3a0a4" opacity="0.8"/><circle cx="102.9" cy="936.8" r="3.1" fill="#e3a0a4" opacity="0.8"/><circle cx="99.9" cy="932.6" r="3.9" fill="#e3a0a4" opacity="0.8"/><circle cx="96.7" cy="927.2" r="3.0" fill="#e3a0a4" opacity="0.8"/><circle cx="93.8" cy="915.5" r="3.6" fill="#e3a0a4" opacity="0.8"/><circle cx="94.0" cy="906.0" r="4.0" fill="#e3a0a4" opacity="0.8"/><circle cx="114.2" cy="900.3" r="3.1" fill="#e3a0a4" opacity="0.8"/><circle cx="121.4" cy="898.0" r="3.7" fill="#e3a0a4" opacity="0.8"/><circle cx="130.6" cy="900.0" r="3.3" fill="#e3a0a4" opacity="0.8"/><circle cx="140.9" cy="905.5" r="3.6" fill="#e3a0a4" opacity="0.8"/><circle cx="144.1" cy="913.9" r="3.8" fill="#e3a0a4" opacity="0.8"/><circle cx="142.3" cy="922.9" r="4.0" fill="#e3a0a4" opacity="0.8"/><circle cx="139.9" cy="929.1" r="3.5" fill="#e3a0a4" opacity="0.8"/><circle cx="137.2" cy="938.1" r="3.4" fill="#e3a0a4" opacity="0.8"/><circle cx="128.5" cy="941.5" r="3.8" fill="#e3a0a4" opacity="0.8"/><circle cx="117.2" cy="938.1" r="3.7" fill="#e3a0a4" opacity="0.8"/><circle cx="112.7" cy="937.7" r="3.9" fill="#e3a0a4" opacity="0.8"/><circle cx="104.5" cy="928.8" r="3.2" fill="#e3a0a4" opacity="0.8"/><circle cx="100.5" cy="918.1" r="4.0" fill="#e3a0a4" opacity="0.8"/><circle cx="102.8" cy="911.2" r="3.3" fill="#e3a0a4" opacity="0.8"/><circle cx="109.2" cy="901.1" r="3.3" fill="#e3a0a4" opacity="0.8"/><circle cx="134.2" cy="924.0" r="3.8" fill="#e3a0a4" opacity="0.8"/><circle cx="126.5" cy="926.5" r="3.8" fill="#e3a0a4" opacity="0.8"/><circle cx="119.5" cy="930.4" r="3.1" fill="#e3a0a4" opacity="0.8"/><circle cx="112.2" cy="922.5" r="3.1" fill="#e3a0a4" opacity="0.8"/><circle cx="114.1" cy="914.1" r="3.8" fill="#e3a0a4" opacity="0.8"/><circle cx="122.3" cy="906.6" r="4.0" fill="#e3a0a4" opacity="0.8"/><circle cx="131.1" cy="906.7" r="3.0" fill="#e3a0a4" opacity="0.8"/><circle cx="134.8" cy="914.8" r="3.3" fill="#e3a0a4" opacity="0.8"/><circle cx="124.3" cy="918.5" r="3.9" fill="#e3a0a4" opacity="0.8"/></g><g opacity="0.60"><circle cx="105.0" cy="814.6" r="29.4" fill="url(#vBody2)"/><path d="M78.0 818.7 L71.7 819.6" stroke="#c98a96" stroke-width="2.8"/><circle cx="71.7" cy="819.6" r="2.1" fill="#cf8c96"/><path d="M77.7 815.4 L71.8 815.6" stroke="#c98a96" stroke-width="2.8"/><circle cx="71.8" cy="815.6" r="2.2" fill="#cf8c96"/><path d="M78.2 809.1 L71.9 807.8" stroke="#c98a96" stroke-width="2.8"/><circle cx="71.9" cy="807.8" r="2.4" fill="#cf8c96"/><path d="M79.3 805.2 L73.4 803.0" stroke="#c98a96" stroke-width="2.8"/><circle cx="73.4" cy="803.0" r="2.1" fill="#cf8c96"/><path d="M81.2 801.2 L76.4 798.5" stroke="#c98a96" stroke-width="2.8"/><circle cx="76.4" cy="798.5" r="2.6" fill="#cf8c96"/><path d="M83.3 798.0 L78.0 794.0" stroke="#c98a96" stroke-width="2.8"/><circle cx="78.0" cy="794.0" r="2.1" fill="#cf8c96"/><path d="M87.4 793.7 L83.7 789.2" stroke="#c98a96" stroke-width="2.8"/><circle cx="83.7" cy="789.2" r="2.3" fill="#cf8c96"/><path d="M91.5 790.8 L88.9 786.3" stroke="#c98a96" stroke-width="2.8"/><circle cx="88.9" cy="786.3" r="2.1" fill="#cf8c96"/><path d="M95.9 788.8 L93.8 783.1" stroke="#c98a96" stroke-width="2.8"/><circle cx="93.8" cy="783.1" r="2.1" fill="#cf8c96"/><path d="M100.5 787.6 L99.4 780.9" stroke="#c98a96" stroke-width="2.8"/><circle cx="99.4" cy="780.9" r="2.1" fill="#cf8c96"/><path d="M103.9 787.3 L103.7 781.8" stroke="#c98a96" stroke-width="2.8"/><circle cx="103.7" cy="781.8" r="2.2" fill="#cf8c96"/><path d="M109.0 787.5 L109.8 782.1" stroke="#c98a96" stroke-width="2.8"/><circle cx="109.8" cy="782.1" r="2.4" fill="#cf8c96"/><path d="M112.3 788.2 L113.8 782.9" stroke="#c98a96" stroke-width="2.8"/><circle cx="113.8" cy="782.9" r="2.5" fill="#cf8c96"/><path d="M117.3 790.2 L120.0 784.9" stroke="#c98a96" stroke-width="2.8"/><circle cx="120.0" cy="784.9" r="2.4" fill="#cf8c96"/><path d="M121.4 792.7 L124.9 788.0" stroke="#c98a96" stroke-width="2.8"/><circle cx="124.9" cy="788.0" r="2.1" fill="#cf8c96"/><path d="M125.2 796.2 L130.3 791.6" stroke="#c98a96" stroke-width="2.8"/><circle cx="130.3" cy="791.6" r="2.6" fill="#cf8c96"/><path d="M128.0 799.8 L132.9 796.6" stroke="#c98a96" stroke-width="2.8"/><circle cx="132.9" cy="796.6" r="2.3" fill="#cf8c96"/><path d="M130.2 803.9 L136.1 801.4" stroke="#c98a96" stroke-width="2.8"/><circle cx="136.1" cy="801.4" r="2.1" fill="#cf8c96"/><path d="M131.4 807.4 L137.0 805.8" stroke="#c98a96" stroke-width="2.8"/><circle cx="137.0" cy="805.8" r="2.3" fill="#cf8c96"/><path d="M132.3 813.2 L138.4 812.9" stroke="#c98a96" stroke-width="2.8"/><circle cx="138.4" cy="812.9" r="2.1" fill="#cf8c96"/><path d="M132.1 817.9 L138.1 818.6" stroke="#c98a96" stroke-width="2.8"/><circle cx="138.1" cy="818.6" r="2.3" fill="#cf8c96"/><path d="M131.6 821.1 L137.3 822.5" stroke="#c98a96" stroke-width="2.8"/><circle cx="137.3" cy="822.5" r="2.3" fill="#cf8c96"/><path d="M129.6 826.6 L134.4 829.0" stroke="#c98a96" stroke-width="2.8"/><circle cx="134.4" cy="829.0" r="2.4" fill="#cf8c96"/><path d="M127.9 829.5 L133.3 833.0" stroke="#c98a96" stroke-width="2.8"/><circle cx="133.3" cy="833.0" r="2.1" fill="#cf8c96"/><path d="M124.9 833.3 L129.1 837.3" stroke="#c98a96" stroke-width="2.8"/><circle cx="129.1" cy="837.3" r="2.4" fill="#cf8c96"/><path d="M121.9 836.1 L125.6 840.9" stroke="#c98a96" stroke-width="2.8"/><circle cx="125.6" cy="840.9" r="2.2" fill="#cf8c96"/><path d="M117.5 838.9 L120.3 844.3" stroke="#c98a96" stroke-width="2.8"/><circle cx="120.3" cy="844.3" r="2.6" fill="#cf8c96"/><path d="M112.8 840.8 L114.8 847.4" stroke="#c98a96" stroke-width="2.8"/><circle cx="114.8" cy="847.4" r="2.2" fill="#cf8c96"/><path d="M107.3 841.8 L107.8 847.7" stroke="#c98a96" stroke-width="2.8"/><circle cx="107.8" cy="847.7" r="2.2" fill="#cf8c96"/><path d="M103.1 841.9 L102.6 848.7" stroke="#c98a96" stroke-width="2.8"/><circle cx="102.6" cy="848.7" r="2.1" fill="#cf8c96"/><path d="M99.5 841.4 L98.2 847.8" stroke="#c98a96" stroke-width="2.8"/><circle cx="98.2" cy="847.8" r="2.2" fill="#cf8c96"/><path d="M95.1 840.1 L93.2 845.0" stroke="#c98a96" stroke-width="2.8"/><circle cx="93.2" cy="845.0" r="2.1" fill="#cf8c96"/><path d="M90.2 837.6 L86.5 843.5" stroke="#c98a96" stroke-width="2.8"/><circle cx="86.5" cy="843.5" r="2.6" fill="#cf8c96"/><path d="M86.8 835.0 L83.3 838.9" stroke="#c98a96" stroke-width="2.8"/><circle cx="83.3" cy="838.9" r="2.2" fill="#cf8c96"/><path d="M83.2 831.1 L77.9 835.1" stroke="#c98a96" stroke-width="2.8"/><circle cx="77.9" cy="835.1" r="2.4" fill="#cf8c96"/><path d="M81.3 828.2 L76.0 831.3" stroke="#c98a96" stroke-width="2.8"/><circle cx="76.0" cy="831.3" r="2.3" fill="#cf8c96"/><path d="M79.1 823.2 L73.7 825.0" stroke="#c98a96" stroke-width="2.8"/><circle cx="73.7" cy="825.0" r="2.6" fill="#cf8c96"/><circle cx="121.8" cy="798.4" r="2.3" fill="#d4929c" opacity="0.8"/><circle cx="127.4" cy="802.1" r="2.1" fill="#d4929c" opacity="0.8"/><circle cx="129.5" cy="810.7" r="1.9" fill="#d4929c" opacity="0.8"/><circle cx="128.2" cy="813.2" r="2.2" fill="#d4929c" opacity="0.8"/><circle cx="126.9" cy="821.1" r="2.3" fill="#d4929c" opacity="0.8"/><circle cx="126.1" cy="824.3" r="2.0" fill="#d4929c" opacity="0.8"/><circle cx="121.5" cy="832.4" r="2.1" fill="#d4929c" opacity="0.8"/><circle cx="118.2" cy="836.7" r="2.2" fill="#d4929c" opacity="0.8"/><circle cx="116.0" cy="836.4" r="2.3" fill="#d4929c" opacity="0.8"/><circle cx="108.2" cy="838.8" r="2.0" fill="#d4929c" opacity="0.8"/><circle cx="105.8" cy="839.5" r="2.1" fill="#d4929c" opacity="0.8"/><circle cx="102.9" cy="839.4" r="2.3" fill="#d4929c" opacity="0.8"/><circle cx="91.8" cy="836.4" r="2.3" fill="#d4929c" opacity="0.8"/><circle cx="89.0" cy="834.0" r="2.0" fill="#d4929c" opacity="0.8"/><circle cx="88.3" cy="831.3" r="1.9" fill="#d4929c" opacity="0.8"/><circle cx="81.4" cy="822.2" r="2.1" fill="#d4929c" opacity="0.8"/><circle cx="82.6" cy="818.7" r="2.1" fill="#d4929c" opacity="0.8"/><circle cx="81.3" cy="813.0" r="1.9" fill="#d4929c" opacity="0.8"/><circle cx="82.0" cy="809.9" r="2.2" fill="#d4929c" opacity="0.8"/><circle cx="83.7" cy="806.9" r="1.9" fill="#d4929c" opacity="0.8"/><circle cx="86.5" cy="797.8" r="2.2" fill="#d4929c" opacity="0.8"/><circle cx="92.9" cy="794.3" r="1.8" fill="#d4929c" opacity="0.8"/><circle cx="94.7" cy="793.0" r="1.9" fill="#d4929c" opacity="0.8"/><circle cx="101.1" cy="791.4" r="1.9" fill="#d4929c" opacity="0.8"/><circle cx="103.8" cy="789.0" r="1.7" fill="#d4929c" opacity="0.8"/><circle cx="109.4" cy="791.7" r="1.9" fill="#d4929c" opacity="0.8"/><circle cx="114.7" cy="793.6" r="2.3" fill="#d4929c" opacity="0.8"/><circle cx="120.6" cy="795.3" r="1.8" fill="#d4929c" opacity="0.8"/><circle cx="85.9" cy="818.3" r="1.9" fill="#d4929c" opacity="0.8"/><circle cx="85.6" cy="813.6" r="2.3" fill="#d4929c" opacity="0.8"/><circle cx="87.3" cy="809.8" r="2.2" fill="#d4929c" opacity="0.8"/><circle cx="89.5" cy="803.9" r="2.2" fill="#d4929c" opacity="0.8"/><circle cx="96.0" cy="798.5" r="2.2" fill="#d4929c" opacity="0.8"/><circle cx="97.4" cy="797.1" r="1.9" fill="#d4929c" opacity="0.8"/><circle cx="103.6" cy="796.9" r="1.9" fill="#d4929c" opacity="0.8"/><circle cx="106.6" cy="797.4" r="2.1" fill="#d4929c" opacity="0.8"/><circle cx="111.7" cy="799.4" r="2.3" fill="#d4929c" opacity="0.8"/><circle cx="117.9" cy="799.6" r="2.1" fill="#d4929c" opacity="0.8"/><circle cx="121.7" cy="804.5" r="2.3" fill="#d4929c" opacity="0.8"/><circle cx="121.3" cy="810.0" r="2.2" fill="#d4929c" opacity="0.8"/><circle cx="123.4" cy="817.7" r="2.2" fill="#d4929c" opacity="0.8"/><circle cx="122.7" cy="820.5" r="1.9" fill="#d4929c" opacity="0.8"/><circle cx="119.6" cy="824.7" r="2.0" fill="#d4929c" opacity="0.8"/><circle cx="117.2" cy="829.6" r="1.8" fill="#d4929c" opacity="0.8"/><circle cx="112.6" cy="830.2" r="2.4" fill="#d4929c" opacity="0.8"/><circle cx="106.2" cy="831.2" r="2.3" fill="#d4929c" opacity="0.8"/><circle cx="99.0" cy="833.0" r="2.0" fill="#d4929c" opacity="0.8"/><circle cx="95.7" cy="829.5" r="1.8" fill="#d4929c" opacity="0.8"/><circle cx="90.0" cy="826.9" r="1.9" fill="#d4929c" opacity="0.8"/><circle cx="89.7" cy="821.0" r="1.9" fill="#d4929c" opacity="0.8"/><circle cx="116.2" cy="814.4" r="2.2" fill="#d4929c" opacity="0.8"/><circle cx="115.2" cy="819.4" r="1.9" fill="#d4929c" opacity="0.8"/><circle cx="113.9" cy="824.9" r="2.1" fill="#d4929c" opacity="0.8"/><circle cx="109.5" cy="826.8" r="2.1" fill="#d4929c" opacity="0.8"/><circle cx="102.9" cy="826.9" r="2.2" fill="#d4929c" opacity="0.8"/><circle cx="97.1" cy="824.1" r="2.1" fill="#d4929c" opacity="0.8"/><circle cx="94.1" cy="821.4" r="2.0" fill="#d4929c" opacity="0.8"/><circle cx="92.7" cy="816.5" r="2.2" fill="#d4929c" opacity="0.8"/><circle cx="91.5" cy="811.5" r="2.1" fill="#d4929c" opacity="0.8"/><circle cx="96.1" cy="805.1" r="2.4" fill="#d4929c" opacity="0.8"/><circle cx="100.4" cy="803.4" r="2.0" fill="#d4929c" opacity="0.8"/><circle cx="105.1" cy="801.4" r="2.3" fill="#d4929c" opacity="0.8"/><circle cx="108.0" cy="804.2" r="1.8" fill="#d4929c" opacity="0.8"/><circle cx="111.9" cy="806.3" r="1.7" fill="#d4929c" opacity="0.8"/><circle cx="115.1" cy="810.2" r="2.2" fill="#d4929c" opacity="0.8"/><circle cx="99.8" cy="808.4" r="2.2" fill="#d4929c" opacity="0.8"/><circle cx="105.4" cy="809.8" r="1.9" fill="#d4929c" opacity="0.8"/><circle cx="109.8" cy="810.4" r="1.9" fill="#d4929c" opacity="0.8"/><circle cx="111.2" cy="814.7" r="2.1" fill="#d4929c" opacity="0.8"/><circle cx="109.4" cy="818.1" r="1.8" fill="#d4929c" opacity="0.8"/><circle cx="105.2" cy="822.6" r="2.4" fill="#d4929c" opacity="0.8"/><circle cx="99.2" cy="820.1" r="2.0" fill="#d4929c" opacity="0.8"/><circle cx="97.1" cy="815.6" r="2.1" fill="#d4929c" opacity="0.8"/><circle cx="105.6" cy="815.4" r="2.1" fill="#d4929c" opacity="0.8"/></g><g opacity="0.62"><circle cx="173.6" cy="838.8" r="22.7" fill="url(#vBody2)"/><path d="M172.1 859.8 L171.8 864.8" stroke="#c98a96" stroke-width="2.2"/><circle cx="171.8" cy="864.8" r="1.9" fill="#cf8c96"/><path d="M169.4 859.5 L168.5 863.7" stroke="#c98a96" stroke-width="2.2"/><circle cx="168.5" cy="863.7" r="1.7" fill="#cf8c96"/><path d="M165.9 858.4 L164.1 863.1" stroke="#c98a96" stroke-width="2.2"/><circle cx="164.1" cy="863.1" r="1.6" fill="#cf8c96"/><path d="M162.3 856.6 L159.9 860.2" stroke="#c98a96" stroke-width="2.2"/><circle cx="159.9" cy="860.2" r="1.7" fill="#cf8c96"/><path d="M159.5 854.5 L156.1 858.4" stroke="#c98a96" stroke-width="2.2"/><circle cx="156.1" cy="858.4" r="1.8" fill="#cf8c96"/><path d="M157.5 852.5 L154.2 855.3" stroke="#c98a96" stroke-width="2.2"/><circle cx="154.2" cy="855.3" r="1.7" fill="#cf8c96"/><path d="M154.8 848.3 L150.2 850.6" stroke="#c98a96" stroke-width="2.2"/><circle cx="150.2" cy="850.6" r="1.9" fill="#cf8c96"/><path d="M153.5 845.0 L148.7 846.5" stroke="#c98a96" stroke-width="2.2"/><circle cx="148.7" cy="846.5" r="2.0" fill="#cf8c96"/><path d="M152.7 841.6 L148.4 842.2" stroke="#c98a96" stroke-width="2.2"/><circle cx="148.4" cy="842.2" r="1.9" fill="#cf8c96"/><path d="M152.5 838.5 L147.5 838.5" stroke="#c98a96" stroke-width="2.2"/><circle cx="147.5" cy="838.5" r="1.8" fill="#cf8c96"/><path d="M152.8 835.1 L148.4 834.3" stroke="#c98a96" stroke-width="2.2"/><circle cx="148.4" cy="834.3" r="1.8" fill="#cf8c96"/><path d="M153.7 831.8 L149.8 830.4" stroke="#c98a96" stroke-width="2.2"/><circle cx="149.8" cy="830.4" r="1.9" fill="#cf8c96"/><path d="M155.6 827.8 L151.0 825.1" stroke="#c98a96" stroke-width="2.2"/><circle cx="151.0" cy="825.1" r="1.9" fill="#cf8c96"/><path d="M157.4 825.3 L153.6 822.0" stroke="#c98a96" stroke-width="2.2"/><circle cx="153.6" cy="822.0" r="1.6" fill="#cf8c96"/><path d="M160.1 822.6 L157.2 819.0" stroke="#c98a96" stroke-width="2.2"/><circle cx="157.2" cy="819.0" r="1.7" fill="#cf8c96"/><path d="M162.4 821.0 L159.8 817.0" stroke="#c98a96" stroke-width="2.2"/><circle cx="159.8" cy="817.0" r="1.7" fill="#cf8c96"/><path d="M165.9 819.2 L164.2 814.6" stroke="#c98a96" stroke-width="2.2"/><circle cx="164.2" cy="814.6" r="1.8" fill="#cf8c96"/><path d="M168.8 818.3 L167.8 813.7" stroke="#c98a96" stroke-width="2.2"/><circle cx="167.8" cy="813.7" r="1.7" fill="#cf8c96"/><path d="M172.5 817.7 L172.3 813.5" stroke="#c98a96" stroke-width="2.2"/><circle cx="172.3" cy="813.5" r="1.7" fill="#cf8c96"/><path d="M175.8 817.8 L176.4 813.0" stroke="#c98a96" stroke-width="2.2"/><circle cx="176.4" cy="813.0" r="2.0" fill="#cf8c96"/><path d="M179.9 818.7 L181.3 813.9" stroke="#c98a96" stroke-width="2.2"/><circle cx="181.3" cy="813.9" r="2.0" fill="#cf8c96"/><path d="M182.7 819.8 L184.5 815.9" stroke="#c98a96" stroke-width="2.2"/><circle cx="184.5" cy="815.9" r="1.9" fill="#cf8c96"/><path d="M186.8 822.4 L189.9 818.6" stroke="#c98a96" stroke-width="2.2"/><circle cx="189.9" cy="818.6" r="1.7" fill="#cf8c96"/><path d="M188.9 824.3 L192.7 820.7" stroke="#c98a96" stroke-width="2.2"/><circle cx="192.7" cy="820.7" r="2.0" fill="#cf8c96"/><path d="M191.5 827.7 L195.2 825.4" stroke="#c98a96" stroke-width="2.2"/><circle cx="195.2" cy="825.4" r="1.9" fill="#cf8c96"/><path d="M192.8 830.2 L197.4 828.1" stroke="#c98a96" stroke-width="2.2"/><circle cx="197.4" cy="828.1" r="1.6" fill="#cf8c96"/><path d="M194.3 834.5 L199.0 833.6" stroke="#c98a96" stroke-width="2.2"/><circle cx="199.0" cy="833.6" r="1.9" fill="#cf8c96"/><path d="M194.6 836.8 L199.4 836.3" stroke="#c98a96" stroke-width="2.2"/><circle cx="199.4" cy="836.3" r="1.8" fill="#cf8c96"/><path d="M194.6 841.0 L199.1 841.5" stroke="#c98a96" stroke-width="2.2"/><circle cx="199.1" cy="841.5" r="1.9" fill="#cf8c96"/><path d="M194.0 844.1 L198.3 845.2" stroke="#c98a96" stroke-width="2.2"/><circle cx="198.3" cy="845.2" r="1.7" fill="#cf8c96"/><path d="M192.6 848.0 L196.3 849.8" stroke="#c98a96" stroke-width="2.2"/><circle cx="196.3" cy="849.8" r="1.7" fill="#cf8c96"/><path d="M191.3 850.2 L195.4 852.9" stroke="#c98a96" stroke-width="2.2"/><circle cx="195.4" cy="852.9" r="1.8" fill="#cf8c96"/><path d="M188.6 853.6 L191.5 856.5" stroke="#c98a96" stroke-width="2.2"/><circle cx="191.5" cy="856.5" r="1.8" fill="#cf8c96"/><path d="M186.1 855.8 L188.6 859.1" stroke="#c98a96" stroke-width="2.2"/><circle cx="188.6" cy="859.1" r="1.6" fill="#cf8c96"/><path d="M182.1 858.1 L183.8 861.9" stroke="#c98a96" stroke-width="2.2"/><circle cx="183.8" cy="861.9" r="1.7" fill="#cf8c96"/><path d="M179.9 858.9 L181.3 863.5" stroke="#c98a96" stroke-width="2.2"/><circle cx="181.3" cy="863.5" r="1.6" fill="#cf8c96"/><path d="M176.1 859.7 L176.6 864.2" stroke="#c98a96" stroke-width="2.2"/><circle cx="176.6" cy="864.2" r="1.9" fill="#cf8c96"/><circle cx="192.2" cy="838.5" r="1.8" fill="#d4929c" opacity="0.8"/><circle cx="191.5" cy="843.7" r="1.7" fill="#d4929c" opacity="0.8"/><circle cx="189.4" cy="845.9" r="1.6" fill="#d4929c" opacity="0.8"/><circle cx="186.6" cy="853.0" r="1.5" fill="#d4929c" opacity="0.8"/><circle cx="184.3" cy="855.1" r="1.5" fill="#d4929c" opacity="0.8"/><circle cx="180.5" cy="855.7" r="1.5" fill="#d4929c" opacity="0.8"/><circle cx="178.0" cy="856.0" r="1.5" fill="#d4929c" opacity="0.8"/><circle cx="175.5" cy="857.0" r="1.4" fill="#d4929c" opacity="0.8"/><circle cx="167.3" cy="856.6" r="1.3" fill="#d4929c" opacity="0.8"/><circle cx="164.1" cy="853.8" r="1.6" fill="#d4929c" opacity="0.8"/><circle cx="161.6" cy="852.4" r="1.5" fill="#d4929c" opacity="0.8"/><circle cx="159.6" cy="849.6" r="1.8" fill="#d4929c" opacity="0.8"/><circle cx="156.8" cy="848.6" r="1.4" fill="#d4929c" opacity="0.8"/><circle cx="155.9" cy="843.3" r="1.4" fill="#d4929c" opacity="0.8"/><circle cx="155.4" cy="840.2" r="1.6" fill="#d4929c" opacity="0.8"/><circle cx="155.1" cy="831.5" r="1.4" fill="#d4929c" opacity="0.8"/><circle cx="158.1" cy="830.4" r="1.7" fill="#d4929c" opacity="0.8"/><circle cx="158.0" cy="826.8" r="1.6" fill="#d4929c" opacity="0.8"/><circle cx="161.8" cy="826.2" r="1.5" fill="#d4929c" opacity="0.8"/><circle cx="168.3" cy="821.9" r="1.6" fill="#d4929c" opacity="0.8"/><circle cx="169.5" cy="821.1" r="1.7" fill="#d4929c" opacity="0.8"/><circle cx="172.6" cy="819.6" r="1.7" fill="#d4929c" opacity="0.8"/><circle cx="180.7" cy="821.6" r="1.8" fill="#d4929c" opacity="0.8"/><circle cx="182.1" cy="822.0" r="1.7" fill="#d4929c" opacity="0.8"/><circle cx="187.9" cy="825.3" r="1.4" fill="#d4929c" opacity="0.8"/><circle cx="187.3" cy="826.1" r="1.7" fill="#d4929c" opacity="0.8"/><circle cx="190.2" cy="831.7" r="1.8" fill="#d4929c" opacity="0.8"/><circle cx="190.5" cy="834.5" r="1.4" fill="#d4929c" opacity="0.8"/><circle cx="186.2" cy="842.1" r="1.7" fill="#d4929c" opacity="0.8"/><circle cx="186.4" cy="847.3" r="1.7" fill="#d4929c" opacity="0.8"/><circle cx="184.2" cy="848.5" r="1.8" fill="#d4929c" opacity="0.8"/><circle cx="179.6" cy="850.9" r="1.7" fill="#d4929c" opacity="0.8"/><circle cx="178.3" cy="851.5" r="1.8" fill="#d4929c" opacity="0.8"/><circle cx="173.1" cy="852.2" r="1.7" fill="#d4929c" opacity="0.8"/><circle cx="169.6" cy="850.9" r="1.4" fill="#d4929c" opacity="0.8"/><circle cx="166.5" cy="850.4" r="1.8" fill="#d4929c" opacity="0.8"/><circle cx="162.5" cy="848.9" r="1.8" fill="#d4929c" opacity="0.8"/><circle cx="159.5" cy="844.9" r="1.7" fill="#d4929c" opacity="0.8"/><circle cx="160.2" cy="840.1" r="1.6" fill="#d4929c" opacity="0.8"/><circle cx="160.1" cy="834.5" r="1.4" fill="#d4929c" opacity="0.8"/><circle cx="160.9" cy="832.8" r="1.4" fill="#d4929c" opacity="0.8"/><circle cx="164.5" cy="829.8" r="1.8" fill="#d4929c" opacity="0.8"/><circle cx="166.1" cy="828.2" r="1.6" fill="#d4929c" opacity="0.8"/><circle cx="169.2" cy="824.4" r="1.6" fill="#d4929c" opacity="0.8"/><circle cx="174.4" cy="823.9" r="1.4" fill="#d4929c" opacity="0.8"/><circle cx="179.3" cy="825.5" r="1.6" fill="#d4929c" opacity="0.8"/><circle cx="182.4" cy="829.5" r="1.8" fill="#d4929c" opacity="0.8"/><circle cx="184.3" cy="828.3" r="1.4" fill="#d4929c" opacity="0.8"/><circle cx="185.8" cy="831.9" r="1.8" fill="#d4929c" opacity="0.8"/><circle cx="187.4" cy="836.5" r="1.6" fill="#d4929c" opacity="0.8"/><circle cx="173.9" cy="847.0" r="1.6" fill="#d4929c" opacity="0.8"/><circle cx="169.6" cy="847.0" r="1.4" fill="#d4929c" opacity="0.8"/><circle cx="167.4" cy="846.7" r="1.6" fill="#d4929c" opacity="0.8"/><circle cx="163.7" cy="841.1" r="1.4" fill="#d4929c" opacity="0.8"/><circle cx="163.1" cy="836.8" r="1.7" fill="#d4929c" opacity="0.8"/><circle cx="165.2" cy="833.3" r="1.7" fill="#d4929c" opacity="0.8"/><circle cx="167.9" cy="830.8" r="1.5" fill="#d4929c" opacity="0.8"/><circle cx="170.0" cy="829.3" r="1.6" fill="#d4929c" opacity="0.8"/><circle cx="174.0" cy="828.9" r="1.6" fill="#d4929c" opacity="0.8"/><circle cx="179.3" cy="830.3" r="1.8" fill="#d4929c" opacity="0.8"/><circle cx="182.2" cy="832.9" r="1.6" fill="#d4929c" opacity="0.8"/><circle cx="182.8" cy="837.7" r="1.8" fill="#d4929c" opacity="0.8"/><circle cx="184.0" cy="841.5" r="1.5" fill="#d4929c" opacity="0.8"/><circle cx="181.4" cy="846.0" r="1.7" fill="#d4929c" opacity="0.8"/><circle cx="177.6" cy="846.2" r="1.6" fill="#d4929c" opacity="0.8"/><circle cx="168.4" cy="841.3" r="1.8" fill="#d4929c" opacity="0.8"/><circle cx="169.0" cy="837.7" r="1.6" fill="#d4929c" opacity="0.8"/><circle cx="171.9" cy="835.4" r="1.4" fill="#d4929c" opacity="0.8"/><circle cx="174.2" cy="834.3" r="1.5" fill="#d4929c" opacity="0.8"/><circle cx="177.5" cy="837.2" r="1.8" fill="#d4929c" opacity="0.8"/><circle cx="177.7" cy="839.6" r="1.8" fill="#d4929c" opacity="0.8"/><circle cx="176.0" cy="841.9" r="1.4" fill="#d4929c" opacity="0.8"/><circle cx="173.1" cy="843.5" r="1.4" fill="#d4929c" opacity="0.8"/><circle cx="174.0" cy="839.2" r="1.4" fill="#d4929c" opacity="0.8"/></g><g opacity="0.62"><circle cx="203.2" cy="962.6" r="20.2" fill="url(#vBody2)"/><path d="M217.7 974.5 L221.1 977.3" stroke="#d0909a" stroke-width="1.9"/><circle cx="221.1" cy="977.3" r="1.8" fill="#d6929a"/><path d="M216.0 976.3 L218.6 979.2" stroke="#d0909a" stroke-width="1.9"/><circle cx="218.6" cy="979.2" r="1.7" fill="#d6929a"/><path d="M213.0 978.6 L215.0 982.0" stroke="#d0909a" stroke-width="1.9"/><circle cx="215.0" cy="982.0" r="1.7" fill="#d6929a"/><path d="M210.5 979.9 L212.2 984.0" stroke="#d0909a" stroke-width="1.9"/><circle cx="212.2" cy="984.0" r="1.5" fill="#d6929a"/><path d="M207.7 980.8 L208.8 985.3" stroke="#d0909a" stroke-width="1.9"/><circle cx="208.8" cy="985.3" r="1.5" fill="#d6929a"/><path d="M204.5 981.3 L204.8 985.8" stroke="#d0909a" stroke-width="1.9"/><circle cx="204.8" cy="985.8" r="1.6" fill="#d6929a"/><path d="M201.5 981.3 L201.1 985.5" stroke="#d0909a" stroke-width="1.9"/><circle cx="201.1" cy="985.5" r="1.7" fill="#d6929a"/><path d="M198.3 980.7 L197.2 984.9" stroke="#d0909a" stroke-width="1.9"/><circle cx="197.2" cy="984.9" r="1.5" fill="#d6929a"/><path d="M195.1 979.5 L193.5 982.8" stroke="#d0909a" stroke-width="1.9"/><circle cx="193.5" cy="982.8" r="1.5" fill="#d6929a"/><path d="M191.6 977.3 L189.1 980.5" stroke="#d0909a" stroke-width="1.9"/><circle cx="189.1" cy="980.5" r="1.8" fill="#d6929a"/><path d="M189.8 975.8 L186.8 978.8" stroke="#d0909a" stroke-width="1.9"/><circle cx="186.8" cy="978.8" r="1.7" fill="#d6929a"/><path d="M187.6 973.0 L184.5 975.1" stroke="#d0909a" stroke-width="1.9"/><circle cx="184.5" cy="975.1" r="1.6" fill="#d6929a"/><path d="M186.1 970.3 L182.6 971.8" stroke="#d0909a" stroke-width="1.9"/><circle cx="182.6" cy="971.8" r="1.4" fill="#d6929a"/><path d="M185.0 966.9 L180.9 967.9" stroke="#d0909a" stroke-width="1.9"/><circle cx="180.9" cy="967.9" r="1.5" fill="#d6929a"/><path d="M184.5 964.4 L180.7 964.8" stroke="#d0909a" stroke-width="1.9"/><circle cx="180.7" cy="964.8" r="1.7" fill="#d6929a"/><path d="M184.5 961.2 L180.8 960.9" stroke="#d0909a" stroke-width="1.9"/><circle cx="180.8" cy="960.9" r="1.7" fill="#d6929a"/><path d="M184.9 958.6 L181.1 957.8" stroke="#d0909a" stroke-width="1.9"/><circle cx="181.1" cy="957.8" r="1.4" fill="#d6929a"/><path d="M186.2 954.7 L182.8 953.1" stroke="#d0909a" stroke-width="1.9"/><circle cx="182.8" cy="953.1" r="1.6" fill="#d6929a"/><path d="M187.2 952.7 L183.7 950.6" stroke="#d0909a" stroke-width="1.9"/><circle cx="183.7" cy="950.6" r="1.7" fill="#d6929a"/><path d="M189.6 949.7 L186.6 946.9" stroke="#d0909a" stroke-width="1.9"/><circle cx="186.6" cy="946.9" r="1.6" fill="#d6929a"/><path d="M191.9 947.7 L189.3 944.3" stroke="#d0909a" stroke-width="1.9"/><circle cx="189.3" cy="944.3" r="1.4" fill="#d6929a"/><path d="M194.6 945.9 L192.8 942.5" stroke="#d0909a" stroke-width="1.9"/><circle cx="192.8" cy="942.5" r="1.7" fill="#d6929a"/><path d="M198.2 944.5 L197.2 941.0" stroke="#d0909a" stroke-width="1.9"/><circle cx="197.2" cy="941.0" r="1.5" fill="#d6929a"/><path d="M201.0 944.0 L200.5 939.8" stroke="#d0909a" stroke-width="1.9"/><circle cx="200.5" cy="939.8" r="1.4" fill="#d6929a"/><path d="M204.1 943.9 L204.4 939.2" stroke="#d0909a" stroke-width="1.9"/><circle cx="204.4" cy="939.2" r="1.6" fill="#d6929a"/><path d="M206.8 944.2 L207.6 940.0" stroke="#d0909a" stroke-width="1.9"/><circle cx="207.6" cy="940.0" r="1.8" fill="#d6929a"/><path d="M209.7 945.0 L211.1 941.3" stroke="#d0909a" stroke-width="1.9"/><circle cx="211.1" cy="941.3" r="1.5" fill="#d6929a"/><path d="M213.1 946.7 L215.2 943.1" stroke="#d0909a" stroke-width="1.9"/><circle cx="215.2" cy="943.1" r="1.5" fill="#d6929a"/><path d="M215.3 948.3 L217.7 945.6" stroke="#d0909a" stroke-width="1.9"/><circle cx="217.7" cy="945.6" r="1.5" fill="#d6929a"/><path d="M218.1 951.3 L221.5 948.7" stroke="#d0909a" stroke-width="1.9"/><circle cx="221.5" cy="948.7" r="1.5" fill="#d6929a"/><path d="M219.8 953.9 L223.3 952.0" stroke="#d0909a" stroke-width="1.9"/><circle cx="223.3" cy="952.0" r="1.5" fill="#d6929a"/><path d="M220.6 955.6 L224.0 954.1" stroke="#d0909a" stroke-width="1.9"/><circle cx="224.0" cy="954.1" r="1.5" fill="#d6929a"/><path d="M221.6 958.9 L226.1 958.0" stroke="#d0909a" stroke-width="1.9"/><circle cx="226.1" cy="958.0" r="1.5" fill="#d6929a"/><path d="M221.9 962.1 L226.2 961.9" stroke="#d0909a" stroke-width="1.9"/><circle cx="226.2" cy="961.9" r="1.8" fill="#d6929a"/><path d="M221.8 965.3 L226.2 966.0" stroke="#d0909a" stroke-width="1.9"/><circle cx="226.2" cy="966.0" r="1.6" fill="#d6929a"/><path d="M220.9 968.8 L224.9 970.2" stroke="#d0909a" stroke-width="1.9"/><circle cx="224.9" cy="970.2" r="1.8" fill="#d6929a"/><path d="M219.5 971.9 L223.1 974.0" stroke="#d0909a" stroke-width="1.9"/><circle cx="223.1" cy="974.0" r="1.7" fill="#d6929a"/><circle cx="191.9" cy="976.1" r="1.4" fill="#da98a0" opacity="0.8"/><circle cx="189.4" cy="970.8" r="1.6" fill="#da98a0" opacity="0.8"/><circle cx="188.3" cy="968.2" r="1.6" fill="#da98a0" opacity="0.8"/><circle cx="187.3" cy="965.4" r="1.3" fill="#da98a0" opacity="0.8"/><circle cx="187.4" cy="963.6" r="1.5" fill="#da98a0" opacity="0.8"/><circle cx="187.5" cy="959.8" r="1.4" fill="#da98a0" opacity="0.8"/><circle cx="189.1" cy="954.5" r="1.5" fill="#da98a0" opacity="0.8"/><circle cx="190.4" cy="952.7" r="1.4" fill="#da98a0" opacity="0.8"/><circle cx="192.7" cy="950.7" r="1.3" fill="#da98a0" opacity="0.8"/><circle cx="198.2" cy="947.7" r="1.5" fill="#da98a0" opacity="0.8"/><circle cx="199.0" cy="946.2" r="1.5" fill="#da98a0" opacity="0.8"/><circle cx="203.4" cy="945.0" r="1.5" fill="#da98a0" opacity="0.8"/><circle cx="207.7" cy="947.8" r="1.4" fill="#da98a0" opacity="0.8"/><circle cx="210.2" cy="947.7" r="1.6" fill="#da98a0" opacity="0.8"/><circle cx="214.7" cy="952.3" r="1.5" fill="#da98a0" opacity="0.8"/><circle cx="217.9" cy="954.8" r="1.2" fill="#da98a0" opacity="0.8"/><circle cx="218.9" cy="958.1" r="1.6" fill="#da98a0" opacity="0.8"/><circle cx="220.5" cy="961.7" r="1.6" fill="#da98a0" opacity="0.8"/><circle cx="220.4" cy="961.4" r="1.3" fill="#da98a0" opacity="0.8"/><circle cx="219.2" cy="965.4" r="1.5" fill="#da98a0" opacity="0.8"/><circle cx="218.6" cy="968.3" r="1.5" fill="#da98a0" opacity="0.8"/><circle cx="215.6" cy="973.7" r="1.3" fill="#da98a0" opacity="0.8"/><circle cx="210.5" cy="976.8" r="1.5" fill="#da98a0" opacity="0.8"/><circle cx="208.4" cy="977.0" r="1.6" fill="#da98a0" opacity="0.8"/><circle cx="207.5" cy="979.8" r="1.6" fill="#da98a0" opacity="0.8"/><circle cx="200.1" cy="979.7" r="1.4" fill="#da98a0" opacity="0.8"/><circle cx="199.0" cy="978.2" r="1.6" fill="#da98a0" opacity="0.8"/><circle cx="197.6" cy="977.2" r="1.6" fill="#da98a0" opacity="0.8"/><circle cx="208.7" cy="950.1" r="1.4" fill="#da98a0" opacity="0.8"/><circle cx="211.5" cy="953.5" r="1.6" fill="#da98a0" opacity="0.8"/><circle cx="212.0" cy="953.9" r="1.4" fill="#da98a0" opacity="0.8"/><circle cx="215.1" cy="959.3" r="1.5" fill="#da98a0" opacity="0.8"/><circle cx="215.5" cy="963.4" r="1.3" fill="#da98a0" opacity="0.8"/><circle cx="216.5" cy="963.5" r="1.4" fill="#da98a0" opacity="0.8"/><circle cx="214.4" cy="968.2" r="1.2" fill="#da98a0" opacity="0.8"/><circle cx="212.3" cy="970.2" r="1.3" fill="#da98a0" opacity="0.8"/><circle cx="207.8" cy="973.6" r="1.2" fill="#da98a0" opacity="0.8"/><circle cx="204.6" cy="975.2" r="1.2" fill="#da98a0" opacity="0.8"/><circle cx="201.7" cy="975.5" r="1.5" fill="#da98a0" opacity="0.8"/><circle cx="198.0" cy="973.8" r="1.3" fill="#da98a0" opacity="0.8"/><circle cx="194.8" cy="972.3" r="1.5" fill="#da98a0" opacity="0.8"/><circle cx="194.2" cy="970.8" r="1.5" fill="#da98a0" opacity="0.8"/><circle cx="191.4" cy="967.5" r="1.4" fill="#da98a0" opacity="0.8"/><circle cx="191.1" cy="962.6" r="1.4" fill="#da98a0" opacity="0.8"/><circle cx="191.7" cy="958.9" r="1.3" fill="#da98a0" opacity="0.8"/><circle cx="193.2" cy="956.7" r="1.6" fill="#da98a0" opacity="0.8"/><circle cx="193.0" cy="953.8" r="1.4" fill="#da98a0" opacity="0.8"/><circle cx="196.0" cy="952.3" r="1.5" fill="#da98a0" opacity="0.8"/><circle cx="200.4" cy="950.1" r="1.4" fill="#da98a0" opacity="0.8"/><circle cx="205.6" cy="951.1" r="1.5" fill="#da98a0" opacity="0.8"/><circle cx="210.5" cy="963.7" r="1.2" fill="#da98a0" opacity="0.8"/><circle cx="211.0" cy="967.9" r="1.3" fill="#da98a0" opacity="0.8"/><circle cx="208.0" cy="969.5" r="1.5" fill="#da98a0" opacity="0.8"/><circle cx="204.9" cy="970.5" r="1.6" fill="#da98a0" opacity="0.8"/><circle cx="201.0" cy="970.4" r="1.6" fill="#da98a0" opacity="0.8"/><circle cx="197.1" cy="968.3" r="1.2" fill="#da98a0" opacity="0.8"/><circle cx="195.1" cy="967.4" r="1.3" fill="#da98a0" opacity="0.8"/><circle cx="194.1" cy="964.0" r="1.2" fill="#da98a0" opacity="0.8"/><circle cx="196.2" cy="959.1" r="1.4" fill="#da98a0" opacity="0.8"/><circle cx="198.0" cy="957.2" r="1.5" fill="#da98a0" opacity="0.8"/><circle cx="199.7" cy="954.2" r="1.5" fill="#da98a0" opacity="0.8"/><circle cx="202.4" cy="953.4" r="1.6" fill="#da98a0" opacity="0.8"/><circle cx="206.5" cy="954.6" r="1.3" fill="#da98a0" opacity="0.8"/><circle cx="210.3" cy="956.9" r="1.4" fill="#da98a0" opacity="0.8"/><circle cx="210.5" cy="960.7" r="1.6" fill="#da98a0" opacity="0.8"/><circle cx="201.0" cy="959.9" r="1.5" fill="#da98a0" opacity="0.8"/><circle cx="202.7" cy="958.1" r="1.3" fill="#da98a0" opacity="0.8"/><circle cx="206.0" cy="960.5" r="1.4" fill="#da98a0" opacity="0.8"/><circle cx="207.4" cy="962.6" r="1.2" fill="#da98a0" opacity="0.8"/><circle cx="206.9" cy="966.8" r="1.4" fill="#da98a0" opacity="0.8"/><circle cx="202.7" cy="966.6" r="1.3" fill="#da98a0" opacity="0.8"/><circle cx="199.3" cy="966.6" r="1.5" fill="#da98a0" opacity="0.8"/><circle cx="199.9" cy="962.4" r="1.4" fill="#da98a0" opacity="0.8"/><circle cx="202.9" cy="962.6" r="1.3" fill="#da98a0" opacity="0.8"/></g><g opacity="0.66"><circle cx="214.3" cy="897.2" r="11.8" fill="url(#vBody2)"/><path d="M224.9 894.4 L227.4 893.7" stroke="#c98a96" stroke-width="1.4"/><circle cx="227.4" cy="893.7" r="1.1" fill="#cf8c96"/><path d="M225.2 897.6 L227.3 897.6" stroke="#c98a96" stroke-width="1.4"/><circle cx="227.3" cy="897.6" r="1.3" fill="#cf8c96"/><path d="M225.0 899.7 L227.6 900.3" stroke="#c98a96" stroke-width="1.4"/><circle cx="227.6" cy="900.3" r="1.3" fill="#cf8c96"/><path d="M224.3 901.5 L226.5 902.5" stroke="#c98a96" stroke-width="1.4"/><circle cx="226.5" cy="902.5" r="1.2" fill="#cf8c96"/><path d="M223.2 903.6 L225.0 905.0" stroke="#c98a96" stroke-width="1.4"/><circle cx="225.0" cy="905.0" r="1.1" fill="#cf8c96"/><path d="M221.2 905.7 L222.9 907.8" stroke="#c98a96" stroke-width="1.4"/><circle cx="222.9" cy="907.8" r="1.3" fill="#cf8c96"/><path d="M219.7 906.7 L221.0 909.1" stroke="#c98a96" stroke-width="1.4"/><circle cx="221.0" cy="909.1" r="1.2" fill="#cf8c96"/><path d="M217.5 907.7 L218.2 910.0" stroke="#c98a96" stroke-width="1.4"/><circle cx="218.2" cy="910.0" r="1.2" fill="#cf8c96"/><path d="M215.3 908.1 L215.5 910.6" stroke="#c98a96" stroke-width="1.4"/><circle cx="215.5" cy="910.6" r="1.1" fill="#cf8c96"/><path d="M212.5 908.0 L212.1 910.7" stroke="#c98a96" stroke-width="1.4"/><circle cx="212.1" cy="910.7" r="1.2" fill="#cf8c96"/><path d="M210.4 907.4 L209.4 909.9" stroke="#c98a96" stroke-width="1.4"/><circle cx="209.4" cy="909.9" r="1.3" fill="#cf8c96"/><path d="M208.2 906.3 L206.7 908.6" stroke="#c98a96" stroke-width="1.4"/><circle cx="206.7" cy="908.6" r="1.1" fill="#cf8c96"/><path d="M206.6 905.0 L205.1 906.6" stroke="#c98a96" stroke-width="1.4"/><circle cx="205.1" cy="906.6" r="1.3" fill="#cf8c96"/><path d="M204.9 902.7 L202.6 904.1" stroke="#c98a96" stroke-width="1.4"/><circle cx="202.6" cy="904.1" r="1.1" fill="#cf8c96"/><path d="M204.0 900.7 L201.4 901.6" stroke="#c98a96" stroke-width="1.4"/><circle cx="201.4" cy="901.6" r="1.1" fill="#cf8c96"/><path d="M203.5 898.8 L201.4 899.1" stroke="#c98a96" stroke-width="1.4"/><circle cx="201.4" cy="899.1" r="1.2" fill="#cf8c96"/><path d="M203.5 895.8 L201.0 895.5" stroke="#c98a96" stroke-width="1.4"/><circle cx="201.0" cy="895.5" r="1.2" fill="#cf8c96"/><path d="M203.9 893.8 L201.8 893.1" stroke="#c98a96" stroke-width="1.4"/><circle cx="201.8" cy="893.1" r="1.3" fill="#cf8c96"/><path d="M204.8 891.7 L202.9 890.6" stroke="#c98a96" stroke-width="1.4"/><circle cx="202.9" cy="890.6" r="1.1" fill="#cf8c96"/><path d="M206.5 889.5 L204.9 887.9" stroke="#c98a96" stroke-width="1.4"/><circle cx="204.9" cy="887.9" r="1.3" fill="#cf8c96"/><path d="M208.0 888.3 L206.6 886.3" stroke="#c98a96" stroke-width="1.4"/><circle cx="206.6" cy="886.3" r="1.1" fill="#cf8c96"/><path d="M210.5 886.9 L209.6 884.5" stroke="#c98a96" stroke-width="1.4"/><circle cx="209.6" cy="884.5" r="1.2" fill="#cf8c96"/><path d="M212.1 886.5 L211.7 884.1" stroke="#c98a96" stroke-width="1.4"/><circle cx="211.7" cy="884.1" r="1.1" fill="#cf8c96"/><path d="M215.1 886.3 L215.3 883.6" stroke="#c98a96" stroke-width="1.4"/><circle cx="215.3" cy="883.6" r="1.2" fill="#cf8c96"/><path d="M217.0 886.6 L217.5 884.6" stroke="#c98a96" stroke-width="1.4"/><circle cx="217.5" cy="884.6" r="1.3" fill="#cf8c96"/><path d="M219.7 887.7 L220.8 885.8" stroke="#c98a96" stroke-width="1.4"/><circle cx="220.8" cy="885.8" r="1.2" fill="#cf8c96"/><path d="M221.3 888.8 L223.1 886.7" stroke="#c98a96" stroke-width="1.4"/><circle cx="223.1" cy="886.7" r="1.1" fill="#cf8c96"/><path d="M222.7 890.2 L224.8 888.5" stroke="#c98a96" stroke-width="1.4"/><circle cx="224.8" cy="888.5" r="1.2" fill="#cf8c96"/><path d="M224.2 892.5 L226.6 891.4" stroke="#c98a96" stroke-width="1.4"/><circle cx="226.6" cy="891.4" r="1.2" fill="#cf8c96"/><circle cx="210.5" cy="889.0" r="0.9" fill="#d4929c" opacity="0.8"/><circle cx="213.0" cy="887.4" r="1.0" fill="#d4929c" opacity="0.8"/><circle cx="215.9" cy="887.5" r="1.1" fill="#d4929c" opacity="0.8"/><circle cx="219.0" cy="889.1" r="1.2" fill="#d4929c" opacity="0.8"/><circle cx="222.1" cy="890.6" r="1.2" fill="#d4929c" opacity="0.8"/><circle cx="222.2" cy="891.2" r="1.0" fill="#d4929c" opacity="0.8"/><circle cx="223.7" cy="894.8" r="0.9" fill="#d4929c" opacity="0.8"/><circle cx="224.6" cy="897.1" r="1.0" fill="#d4929c" opacity="0.8"/><circle cx="223.1" cy="901.7" r="1.0" fill="#d4929c" opacity="0.8"/><circle cx="222.5" cy="902.6" r="1.1" fill="#d4929c" opacity="0.8"/><circle cx="220.1" cy="904.1" r="0.9" fill="#d4929c" opacity="0.8"/><circle cx="216.8" cy="906.8" r="0.9" fill="#d4929c" opacity="0.8"/><circle cx="214.1" cy="906.9" r="1.0" fill="#d4929c" opacity="0.8"/><circle cx="211.4" cy="905.8" r="0.9" fill="#d4929c" opacity="0.8"/><circle cx="210.0" cy="906.2" r="1.1" fill="#d4929c" opacity="0.8"/><circle cx="207.2" cy="904.5" r="1.0" fill="#d4929c" opacity="0.8"/><circle cx="206.1" cy="900.9" r="1.1" fill="#d4929c" opacity="0.8"/><circle cx="205.0" cy="900.3" r="1.2" fill="#d4929c" opacity="0.8"/><circle cx="204.6" cy="896.1" r="1.1" fill="#d4929c" opacity="0.8"/><circle cx="205.7" cy="893.3" r="1.0" fill="#d4929c" opacity="0.8"/><circle cx="206.6" cy="891.3" r="0.9" fill="#d4929c" opacity="0.8"/><circle cx="208.6" cy="889.5" r="0.9" fill="#d4929c" opacity="0.8"/><circle cx="213.0" cy="890.3" r="1.2" fill="#d4929c" opacity="0.8"/><circle cx="216.1" cy="889.9" r="1.0" fill="#d4929c" opacity="0.8"/><circle cx="217.0" cy="891.0" r="1.0" fill="#d4929c" opacity="0.8"/><circle cx="219.9" cy="893.5" r="1.2" fill="#d4929c" opacity="0.8"/><circle cx="221.6" cy="894.9" r="0.9" fill="#d4929c" opacity="0.8"/><circle cx="221.2" cy="897.6" r="1.1" fill="#d4929c" opacity="0.8"/><circle cx="221.1" cy="900.6" r="1.1" fill="#d4929c" opacity="0.8"/><circle cx="218.8" cy="902.5" r="0.9" fill="#d4929c" opacity="0.8"/><circle cx="216.5" cy="903.5" r="1.0" fill="#d4929c" opacity="0.8"/><circle cx="215.1" cy="905.0" r="1.0" fill="#d4929c" opacity="0.8"/><circle cx="212.1" cy="904.2" r="1.0" fill="#d4929c" opacity="0.8"/><circle cx="209.9" cy="903.0" r="1.1" fill="#d4929c" opacity="0.8"/><circle cx="208.2" cy="901.1" r="1.2" fill="#d4929c" opacity="0.8"/><circle cx="207.4" cy="897.4" r="1.2" fill="#d4929c" opacity="0.8"/><circle cx="207.3" cy="896.8" r="1.2" fill="#d4929c" opacity="0.8"/><circle cx="207.6" cy="893.8" r="1.2" fill="#d4929c" opacity="0.8"/><circle cx="210.2" cy="891.2" r="0.9" fill="#d4929c" opacity="0.8"/><circle cx="209.2" cy="898.9" r="1.0" fill="#d4929c" opacity="0.8"/><circle cx="209.7" cy="895.8" r="1.1" fill="#d4929c" opacity="0.8"/><circle cx="211.2" cy="893.9" r="1.2" fill="#d4929c" opacity="0.8"/><circle cx="212.7" cy="892.5" r="1.2" fill="#d4929c" opacity="0.8"/><circle cx="215.5" cy="892.4" r="1.0" fill="#d4929c" opacity="0.8"/><circle cx="217.5" cy="893.0" r="1.0" fill="#d4929c" opacity="0.8"/><circle cx="219.3" cy="895.9" r="1.1" fill="#d4929c" opacity="0.8"/><circle cx="219.7" cy="898.1" r="1.0" fill="#d4929c" opacity="0.8"/><circle cx="218.7" cy="900.5" r="1.2" fill="#d4929c" opacity="0.8"/><circle cx="216.5" cy="902.2" r="1.1" fill="#d4929c" opacity="0.8"/><circle cx="213.6" cy="902.2" r="1.2" fill="#d4929c" opacity="0.8"/><circle cx="211.2" cy="901.4" r="1.0" fill="#d4929c" opacity="0.8"/><circle cx="215.9" cy="900.1" r="1.1" fill="#d4929c" opacity="0.8"/><circle cx="213.1" cy="899.3" r="1.0" fill="#d4929c" opacity="0.8"/><circle cx="211.3" cy="897.4" r="1.1" fill="#d4929c" opacity="0.8"/><circle cx="212.6" cy="895.0" r="1.0" fill="#d4929c" opacity="0.8"/><circle cx="215.8" cy="894.5" r="1.1" fill="#d4929c" opacity="0.8"/><circle cx="216.7" cy="896.8" r="1.2" fill="#d4929c" opacity="0.8"/><circle cx="214.7" cy="896.8" r="0.9" fill="#d4929c" opacity="0.8"/></g><g opacity="0.62"><circle cx="200.4" cy="788.5" r="9.2" fill="url(#vBody2)"/><path d="M194.9 795.1 L193.7 796.5" stroke="#c98a96" stroke-width="1.4"/><circle cx="193.7" cy="796.5" r="1.2" fill="#cf8c96"/><path d="M193.3 793.4 L191.7 794.5" stroke="#c98a96" stroke-width="1.4"/><circle cx="191.7" cy="794.5" r="1.1" fill="#cf8c96"/><path d="M192.2 791.2 L190.7 791.7" stroke="#c98a96" stroke-width="1.4"/><circle cx="190.7" cy="791.7" r="1.1" fill="#cf8c96"/><path d="M191.8 789.1 L190.1 789.2" stroke="#c98a96" stroke-width="1.4"/><circle cx="190.1" cy="789.2" r="1.2" fill="#cf8c96"/><path d="M192.0 786.7 L190.0 786.3" stroke="#c98a96" stroke-width="1.4"/><circle cx="190.0" cy="786.3" r="1.3" fill="#cf8c96"/><path d="M192.8 784.6 L190.9 783.6" stroke="#c98a96" stroke-width="1.4"/><circle cx="190.9" cy="783.6" r="1.3" fill="#cf8c96"/><path d="M194.3 782.4 L193.1 781.3" stroke="#c98a96" stroke-width="1.4"/><circle cx="193.1" cy="781.3" r="1.2" fill="#cf8c96"/><path d="M196.1 781.0 L195.2 779.5" stroke="#c98a96" stroke-width="1.4"/><circle cx="195.2" cy="779.5" r="1.1" fill="#cf8c96"/><path d="M198.1 780.2 L197.6 778.5" stroke="#c98a96" stroke-width="1.4"/><circle cx="197.6" cy="778.5" r="1.3" fill="#cf8c96"/><path d="M200.4 779.9 L200.4 778.0" stroke="#c98a96" stroke-width="1.4"/><circle cx="200.4" cy="778.0" r="1.2" fill="#cf8c96"/><path d="M203.1 780.4 L203.7 778.7" stroke="#c98a96" stroke-width="1.4"/><circle cx="203.7" cy="778.7" r="1.1" fill="#cf8c96"/><path d="M205.3 781.4 L206.4 779.7" stroke="#c98a96" stroke-width="1.4"/><circle cx="206.4" cy="779.7" r="1.3" fill="#cf8c96"/><path d="M206.8 782.8 L208.1 781.6" stroke="#c98a96" stroke-width="1.4"/><circle cx="208.1" cy="781.6" r="1.1" fill="#cf8c96"/><path d="M208.0 784.6 L209.7 783.7" stroke="#c98a96" stroke-width="1.4"/><circle cx="209.7" cy="783.7" r="1.1" fill="#cf8c96"/><path d="M208.9 787.0 L210.9 786.7" stroke="#c98a96" stroke-width="1.4"/><circle cx="210.9" cy="786.7" r="1.0" fill="#cf8c96"/><path d="M208.9 789.5 L210.8 789.7" stroke="#c98a96" stroke-width="1.4"/><circle cx="210.8" cy="789.7" r="1.3" fill="#cf8c96"/><path d="M208.5 791.5 L210.4 792.2" stroke="#c98a96" stroke-width="1.4"/><circle cx="210.4" cy="792.2" r="1.2" fill="#cf8c96"/><path d="M207.3 793.6 L208.8 794.8" stroke="#c98a96" stroke-width="1.4"/><circle cx="208.8" cy="794.8" r="1.1" fill="#cf8c96"/><path d="M205.9 795.1 L207.0 796.5" stroke="#c98a96" stroke-width="1.4"/><circle cx="207.0" cy="796.5" r="1.2" fill="#cf8c96"/><path d="M203.8 796.4 L204.5 798.2" stroke="#c98a96" stroke-width="1.4"/><circle cx="204.5" cy="798.2" r="1.2" fill="#cf8c96"/><path d="M201.5 797.0 L201.7 798.8" stroke="#c98a96" stroke-width="1.4"/><circle cx="201.7" cy="798.8" r="1.2" fill="#cf8c96"/><path d="M198.8 796.9 L198.4 799.0" stroke="#c98a96" stroke-width="1.4"/><circle cx="198.4" cy="799.0" r="1.2" fill="#cf8c96"/><path d="M196.6 796.2 L195.9 797.8" stroke="#c98a96" stroke-width="1.4"/><circle cx="195.9" cy="797.8" r="1.1" fill="#cf8c96"/><circle cx="206.7" cy="791.7" r="1.1" fill="#d4929c" opacity="0.8"/><circle cx="203.8" cy="794.8" r="1.1" fill="#d4929c" opacity="0.8"/><circle cx="201.3" cy="796.3" r="0.9" fill="#d4929c" opacity="0.8"/><circle cx="199.2" cy="795.7" r="0.9" fill="#d4929c" opacity="0.8"/><circle cx="197.8" cy="795.7" r="1.2" fill="#d4929c" opacity="0.8"/><circle cx="195.5" cy="793.8" r="1.0" fill="#d4929c" opacity="0.8"/><circle cx="193.7" cy="792.0" r="1.1" fill="#d4929c" opacity="0.8"/><circle cx="193.3" cy="788.4" r="0.9" fill="#d4929c" opacity="0.8"/><circle cx="193.0" cy="786.1" r="1.2" fill="#d4929c" opacity="0.8"/><circle cx="195.3" cy="783.5" r="1.0" fill="#d4929c" opacity="0.8"/><circle cx="197.2" cy="782.1" r="0.9" fill="#d4929c" opacity="0.8"/><circle cx="199.8" cy="780.6" r="1.0" fill="#d4929c" opacity="0.8"/><circle cx="203.7" cy="781.2" r="1.0" fill="#d4929c" opacity="0.8"/><circle cx="204.5" cy="782.5" r="1.1" fill="#d4929c" opacity="0.8"/><circle cx="207.7" cy="785.2" r="0.9" fill="#d4929c" opacity="0.8"/><circle cx="207.3" cy="787.3" r="1.0" fill="#d4929c" opacity="0.8"/><circle cx="207.5" cy="789.6" r="0.9" fill="#d4929c" opacity="0.8"/><circle cx="206.1" cy="787.9" r="1.1" fill="#d4929c" opacity="0.8"/><circle cx="205.7" cy="790.9" r="1.0" fill="#d4929c" opacity="0.8"/><circle cx="203.6" cy="792.7" r="1.1" fill="#d4929c" opacity="0.8"/><circle cx="201.1" cy="794.4" r="1.0" fill="#d4929c" opacity="0.8"/><circle cx="198.6" cy="794.3" r="1.1" fill="#d4929c" opacity="0.8"/><circle cx="197.0" cy="792.9" r="0.9" fill="#d4929c" opacity="0.8"/><circle cx="194.9" cy="789.7" r="1.0" fill="#d4929c" opacity="0.8"/><circle cx="194.8" cy="787.9" r="1.1" fill="#d4929c" opacity="0.8"/><circle cx="196.3" cy="784.9" r="1.0" fill="#d4929c" opacity="0.8"/><circle cx="198.5" cy="783.6" r="1.2" fill="#d4929c" opacity="0.8"/><circle cx="200.0" cy="782.6" r="0.9" fill="#d4929c" opacity="0.8"/><circle cx="204.2" cy="783.9" r="1.0" fill="#d4929c" opacity="0.8"/><circle cx="205.7" cy="785.4" r="1.2" fill="#d4929c" opacity="0.8"/><circle cx="198.4" cy="784.9" r="1.2" fill="#d4929c" opacity="0.8"/><circle cx="201.0" cy="784.5" r="1.1" fill="#d4929c" opacity="0.8"/><circle cx="203.1" cy="786.1" r="1.1" fill="#d4929c" opacity="0.8"/><circle cx="204.5" cy="788.2" r="1.1" fill="#d4929c" opacity="0.8"/><circle cx="202.8" cy="791.0" r="0.9" fill="#d4929c" opacity="0.8"/><circle cx="200.7" cy="792.6" r="1.2" fill="#d4929c" opacity="0.8"/><circle cx="198.0" cy="792.1" r="0.9" fill="#d4929c" opacity="0.8"/><circle cx="196.8" cy="790.3" r="1.1" fill="#d4929c" opacity="0.8"/><circle cx="196.1" cy="787.6" r="1.0" fill="#d4929c" opacity="0.8"/><circle cx="200.9" cy="790.1" r="0.9" fill="#d4929c" opacity="0.8"/><circle cx="199.3" cy="789.5" r="0.9" fill="#d4929c" opacity="0.8"/><circle cx="198.6" cy="787.0" r="1.1" fill="#d4929c" opacity="0.8"/><circle cx="201.1" cy="786.3" r="0.9" fill="#d4929c" opacity="0.8"/><circle cx="202.3" cy="788.8" r="0.9" fill="#d4929c" opacity="0.8"/><circle cx="200.2" cy="788.7" r="1.0" fill="#d4929c" opacity="0.8"/></g></g></g>
</svg>
<svg class="abs" width="1428" height="1026" viewBox="0 0 1428 1026">
<defs>
<linearGradient id="lgRing" x1="0.15" y1="0.1" x2="0.85" y2="0.9">
<stop offset="0" stop-color="#9aaccd"/><stop offset="0.25" stop-color="#3c66ad"/><stop offset="0.55" stop-color="#172c68"/><stop offset="1" stop-color="#0a133a"/>
</linearGradient>
<radialGradient id="lgBall" cx="0.32" cy="0.32" r="0.8">
<stop offset="0" stop-color="#8fa9dc"/><stop offset="0.3" stop-color="#3f6ab8"/><stop offset="0.7" stop-color="#183578"/><stop offset="1" stop-color="#0f2058"/>
</radialGradient>
<filter id="lgBlur" x="-10%" y="-10%" width="120%" height="120%"><feGaussianBlur stdDeviation="0.45"/></filter>
<filter id="lgSh" x="-30%" y="-30%" width="160%" height="160%"><feGaussianBlur stdDeviation="2"/></filter>
</defs>
<ellipse cx="229.6" cy="156" rx="24" ry="5" fill="#8f98b5" opacity="0.35" filter="url(#lgSh)"/>
<g filter="url(#lgBlur)">
<ellipse cx="229.2" cy="133.6" rx="25.3" ry="27" fill="url(#lgRing)"/>
<!-- white C / P ring (arc with gap at lower right) -->
<path d="M235.4 147 L243 138 L250 146 L240 158 L235.4 160 Z" fill="#111f54"/>
<path d="M229.2 152.2 A17.6 18.8 0 1 1 242.9 145.3" fill="none" stroke="#fff" stroke-width="6.6"/>
<!-- inner ball -->
<ellipse cx="229.2" cy="133.4" rx="14.3" ry="15.5" fill="url(#lgBall)"/>
<!-- vertical stem: thin dark edge then white bar -->
<rect x="228.5" y="112.6" width="1.5" height="47.6" fill="#1b2f6c"/>
<rect x="230" y="111.6" width="5.4" height="49" fill="#fff"/>
</g>
</svg>
<div id="axis"></div>
<div class="bar" style="top:359.2px;width:588.2px"></div>
<div class="bar" style="top:423.2px;width:501.5px"></div>
<div class="bar" style="top:487.2px;width:494.7px"></div>
<div class="bar" style="top:551.2px;width:212.4px"></div>
<div class="bar" style="top:615.2px;width:205.4px"></div>
<div class="bar" style="top:679.2px;width:524.4px"></div>
<div class="t" id="title" style="left:389.00px;top:137.51px;font-size:39.40px;font-weight:bold;color:#000;transform:scaleX(0.9402);">Elektabilitas 5 Nama</div>
<div class="t" id="foot" style="left:109.00px;top:911.32px;font-size:22.80px;font-weight:bold;color:#1f2a58;letter-spacing:1.550px;">Survei Nasional Periode Juli 2021</div>
<div class="t" id="pg" style="left:1138.50px;top:926.13px;font-size:18.20px;color:#8a8a8a;transform:scaleX(0.9302);">44</div>
<div class="t" id="lg1a" style="left:112.50px;top:166.97px;font-size:19.80px;font-weight:bold;color:#1a2a5a;-webkit-text-stroke:0.7px #1a2a5a;transform:scaleX(1.3235);">CHARTA</div>
<div class="t" id="lg1b" style="left:227.00px;top:166.97px;font-size:19.80px;font-weight:bold;color:#1a2a5a;-webkit-text-stroke:0.7px #1a2a5a;transform:scaleX(1.2849);">POLITIKA</div>
<div class="t" id="lg2" style="left:112.50px;top:185.68px;font-size:13.20px;color:#545c74;-webkit-text-stroke:0.45px #545c74;letter-spacing:19.850px;">INDONESIA</div>
<div class="t" id="q1_0" style="left:170.60px;top:227.65px;font-size:21.30px;font-style:italic;color:#111;-webkit-text-stroke:0.3px #111;transform:scaleX(0.9300);">Jika</div>
<div class="t" id="q1_1" style="left:214.10px;top:227.65px;font-size:21.30px;font-style:italic;color:#111;-webkit-text-stroke:0.3px #111;transform:scaleX(1.0792);">pemilihan</div>
<div class="t" id="q1_2" style="left:317.00px;top:227.65px;font-size:21.30px;font-style:italic;color:#111;-webkit-text-stroke:0.3px #111;transform:scaleX(1.0001);">presiden</div>
<div class="t" id="q1_3" style="left:405.90px;top:227.65px;font-size:21.30px;font-style:italic;color:#111;-webkit-text-stroke:0.3px #111;transform:scaleX(1.0800);">diadakan</div>
<div class="t" id="q1_4" style="left:504.10px;top:227.65px;font-size:21.30px;font-style:italic;color:#111;-webkit-text-stroke:0.3px #111;transform:scaleX(1.0242);">sekarang,</div>
<div class="t" id="q1_5" style="left:605.30px;top:227.65px;font-size:21.30px;font-style:italic;color:#111;-webkit-text-stroke:0.3px #111;transform:scaleX(1.0120);">siapa</div>
<div class="t" id="q1_6" style="left:664.80px;top:227.65px;font-size:21.30px;font-style:italic;color:#111;-webkit-text-stroke:0.3px #111;transform:scaleX(1.0129);">yang</div>
<div class="t" id="q1_7" style="left:718.30px;top:227.65px;font-size:21.30px;font-style:italic;color:#111;-webkit-text-stroke:0.3px #111;transform:scaleX(1.0134);">akan</div>
<div class="t" id="q1_8" style="left:771.10px;top:227.65px;font-size:21.30px;font-style:italic;color:#111;-webkit-text-stroke:0.3px #111;transform:scaleX(1.0619);">Bapak/Ibu/Saudara</div>
<div class="t" id="q1_9" style="left:973.20px;top:227.65px;font-size:21.30px;font-style:italic;color:#111;-webkit-text-stroke:0.3px #111;transform:scaleX(1.1049);">pilih</div>
<div class="t" id="q1_10" style="left:1020.80px;top:227.65px;font-size:21.30px;font-style:italic;color:#111;-webkit-text-stroke:0.3px #111;transform:scaleX(0.9816);">sebagai</div>
<div class="t" id="q1_11" style="left:1102.30px;top:227.65px;font-size:21.30px;font-style:italic;color:#111;-webkit-text-stroke:0.3px #111;transform:scaleX(0.9953);">Presiden</div>
<div class="t" id="q1_12" style="left:1192.00px;top:227.65px;font-size:21.30px;font-style:italic;color:#111;-webkit-text-stroke:0.3px #111;transform:scaleX(1.1100);">di</div>
<div class="t" id="q2_0" style="left:170.60px;top:256.89px;font-size:21.30px;font-style:italic;color:#111;-webkit-text-stroke:0.3px #111;transform:scaleX(1.0534);">antara</div>
<div class="t" id="q2_1" style="left:243.50px;top:256.89px;font-size:21.30px;font-style:italic;color:#111;-webkit-text-stroke:0.3px #111;transform:scaleX(1.0708);">nama-nama</div>
<div class="t" id="q2_2" style="left:371.60px;top:256.89px;font-size:21.30px;font-style:italic;color:#111;-webkit-text-stroke:0.3px #111;transform:scaleX(1.0339);">berikut</div>
<div class="t" id="q2_3" style="left:446.10px;top:256.89px;font-size:21.30px;font-style:italic;color:#111;-webkit-text-stroke:0.3px #111;transform:scaleX(1.0358);">ini?</div>
<div class="t" id="p1_0" style="left:175.80px;top:809.39px;font-size:21.30px;color:#1a1a1a;-webkit-text-stroke:0.3px #1a1a1a;transform:scaleX(0.9300);">Pada</div>
<div class="t" id="p1_1" style="left:228.30px;top:809.39px;font-size:21.30px;color:#1a1a1a;-webkit-text-stroke:0.3px #1a1a1a;transform:scaleX(1.0348);">simulasi</div>
<div class="t" id="p1_2" style="left:312.70px;top:809.39px;font-size:21.30px;color:#1a1a1a;-webkit-text-stroke:0.3px #1a1a1a;transform:scaleX(1.0434);">5</div>
<div class="t" id="p1_3" style="left:331.50px;top:809.39px;font-size:21.30px;color:#1a1a1a;-webkit-text-stroke:0.3px #1a1a1a;transform:scaleX(1.0182);">nama,</div>
<div class="t" id="p1_4" style="left:398.50px;top:809.39px;font-size:21.30px;color:#1a1a1a;-webkit-text-stroke:0.3px #1a1a1a;transform:scaleX(0.9844);">Ganjar</div>
<div class="t" id="p1_5" style="left:469.60px;top:809.39px;font-size:21.30px;color:#1a1a1a;-webkit-text-stroke:0.3px #1a1a1a;transform:scaleX(1.0513);">Pranowo</div>
<div class="t" id="p1_6" style="left:564.70px;top:809.39px;font-size:21.30px;color:#1a1a1a;-webkit-text-stroke:0.3px #1a1a1a;transform:scaleX(1.0196);">(23.3%)</div>
<div class="t" id="p1_7" style="left:646.70px;top:809.39px;font-size:21.30px;color:#1a1a1a;-webkit-text-stroke:0.3px #1a1a1a;transform:scaleX(1.0362);">mendapat</div>
<div class="t" id="p1_8" style="left:752.80px;top:809.39px;font-size:21.30px;color:#1a1a1a;-webkit-text-stroke:0.3px #1a1a1a;transform:scaleX(1.0782);">elektabilitas</div>
<div class="t" id="p1_9" style="left:876.90px;top:809.39px;font-size:21.30px;color:#1a1a1a;-webkit-text-stroke:0.3px #1a1a1a;transform:scaleX(1.0976);">tertinggi,</div>
<div class="t" id="p1_10" style="left:974.10px;top:809.39px;font-size:21.30px;color:#1a1a1a;-webkit-text-stroke:0.3px #1a1a1a;transform:scaleX(1.1100);">diikuti</div>
<div class="t" id="p1_11" style="left:1040.70px;top:809.39px;font-size:21.30px;color:#1a1a1a;-webkit-text-stroke:0.3px #1a1a1a;transform:scaleX(1.0557);">berikutnya</div>
<div class="t" id="p1_12" style="left:1151.60px;top:809.39px;font-size:21.30px;color:#1a1a1a;-webkit-text-stroke:0.3px #1a1a1a;transform:scaleX(1.0574);">oleh</div>
<div class="t" id="p1_13" style="left:1201.40px;top:809.39px;font-size:21.30px;color:#1a1a1a;-webkit-text-stroke:0.3px #1a1a1a;transform:scaleX(0.9963);">Anies</div>
<div class="t" id="p2_0" style="left:464.60px;top:838.69px;font-size:21.30px;color:#1a1a1a;-webkit-text-stroke:0.3px #1a1a1a;transform:scaleX(1.0227);">Baswedan</div>
<div class="t" id="p2_1" style="left:571.10px;top:838.69px;font-size:21.30px;color:#1a1a1a;-webkit-text-stroke:0.3px #1a1a1a;transform:scaleX(1.0302);">(19.8%)</div>
<div class="t" id="p2_2" style="left:653.50px;top:838.69px;font-size:21.30px;color:#1a1a1a;-webkit-text-stroke:0.3px #1a1a1a;">dan</div>
<div class="t" id="p2_3" style="left:694.30px;top:838.69px;font-size:21.30px;color:#1a1a1a;-webkit-text-stroke:0.3px #1a1a1a;transform:scaleX(1.0440);">Prabowo</div>
<div class="t" id="p2_4" style="left:789.40px;top:838.69px;font-size:21.30px;color:#1a1a1a;-webkit-text-stroke:0.3px #1a1a1a;transform:scaleX(1.0464);">Subianto</div>
<div class="t" id="p2_5" style="left:882.30px;top:838.69px;font-size:21.30px;color:#1a1a1a;-webkit-text-stroke:0.3px #1a1a1a;transform:scaleX(1.0205);">(19.6%).</div>
<div class="t" id="n1" style="left:311.50px;top:367.03px;font-size:21.50px;color:#1a1a1a;-webkit-text-stroke:0.3px #1a1a1a;transform:scaleX(1.0195);">Ganjar Pranowo</div>
<div class="t" id="n2" style="left:291.50px;top:430.93px;font-size:21.50px;color:#1a1a1a;-webkit-text-stroke:0.3px #1a1a1a;transform:scaleX(0.9845);">Anies R Baswedan</div>
<div class="t" id="n3" style="left:288.50px;top:494.83px;font-size:21.50px;color:#1a1a1a;-webkit-text-stroke:0.3px #1a1a1a;transform:scaleX(1.0368);">Prabowo Subianto</div>
<div class="t" id="n4" style="left:318.00px;top:558.73px;font-size:21.50px;color:#1a1a1a;-webkit-text-stroke:0.3px #1a1a1a;transform:scaleX(0.9731);">Sandiaga S Uno</div>
<div class="t" id="n5" style="left:335.50px;top:622.62px;font-size:21.50px;color:#1a1a1a;-webkit-text-stroke:0.3px #1a1a1a;transform:scaleX(1.0266);">Ridwan Kamil</div>
<div class="t" id="n6" style="left:420.00px;top:686.52px;font-size:21.50px;color:#1a1a1a;-webkit-text-stroke:0.3px #1a1a1a;transform:scaleX(0.8765);">TT/TJ</div>
<div class="t" id="v1" style="left:1091.00px;top:368.61px;font-size:21.40px;color:#1a1a1a;-webkit-text-stroke:0.3px #1a1a1a;transform:scaleX(1.0202);">23.3</div>
<div class="t" id="v2" style="left:1004.50px;top:432.61px;font-size:21.40px;color:#1a1a1a;-webkit-text-stroke:0.3px #1a1a1a;transform:scaleX(1.0202);">19.8</div>
<div class="t" id="v3" style="left:997.50px;top:496.61px;font-size:21.40px;color:#1a1a1a;-webkit-text-stroke:0.3px #1a1a1a;transform:scaleX(1.0202);">19.6</div>
<div class="t" id="v4" style="left:716.00px;top:560.61px;font-size:21.40px;color:#1a1a1a;-webkit-text-stroke:0.3px #1a1a1a;transform:scaleX(1.0074);">8.4</div>
<div class="t" id="v5" style="left:709.00px;top:624.61px;font-size:21.40px;color:#1a1a1a;-webkit-text-stroke:0.3px #1a1a1a;transform:scaleX(1.0434);">8.2</div>
<div class="t" id="v6" style="left:1028.00px;top:688.61px;font-size:21.40px;color:#1a1a1a;-webkit-text-stroke:0.3px #1a1a1a;transform:scaleX(1.0202);">20.7</div>
<div class="t" id="a0" style="left:486.00px;top:757.24px;font-size:21.60px;color:#1a1a1a;-webkit-text-stroke:0.3px #1a1a1a;">0</div>
<div class="t" id="a1" style="left:613.00px;top:757.24px;font-size:21.60px;color:#1a1a1a;-webkit-text-stroke:0.3px #1a1a1a;transform:scaleX(1.1000);">5</div>
<div class="t" id="a2" style="left:733.75px;top:757.24px;font-size:21.60px;color:#1a1a1a;-webkit-text-stroke:0.3px #1a1a1a;transform:scaleX(1.0919);">10</div>
<div class="t" id="a3" style="left:860.25px;top:757.24px;font-size:21.60px;color:#1a1a1a;-webkit-text-stroke:0.3px #1a1a1a;transform:scaleX(1.0919);">15</div>
<div class="t" id="a4" style="left:987.75px;top:757.24px;font-size:21.60px;color:#1a1a1a;-webkit-text-stroke:0.3px #1a1a1a;transform:scaleX(1.0444);">20</div>
<div class="t" id="a5" style="left:1113.25px;top:757.24px;font-size:21.60px;color:#1a1a1a;-webkit-text-stroke:0.3px #1a1a1a;transform:scaleX(1.0444);">25</div>
</body>
</html>
